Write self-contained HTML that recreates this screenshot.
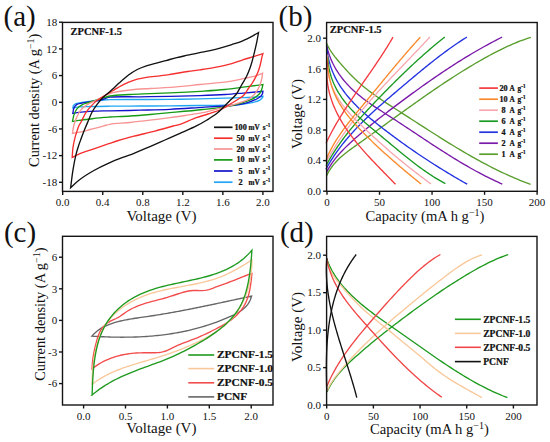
<!DOCTYPE html>
<html><head><meta charset="utf-8"><style>
html,body{margin:0;padding:0;background:#fff;width:550px;height:442px;overflow:hidden}
svg{display:block}
</style></head><body>
<svg width="550" height="442" viewBox="0 0 550 442"><rect width="550" height="442" fill="#ffffff"/><path d="M72.80 107.90 C73.03 107.07 73.02 106.09 73.50 105.40 C74.02 104.67 74.80 104.17 75.90 103.70 C77.73 102.92 81.08 102.63 83.90 102.20 C87.04 101.72 90.56 101.37 93.90 101.00 C97.26 100.63 101.07 100.22 104.00 100.00 C106.26 99.83 107.23 99.78 110.00 99.70 C116.18 99.53 130.00 99.55 140.00 99.50 C150.00 99.45 160.00 99.52 170.00 99.40 C180.00 99.28 190.46 99.03 200.00 98.80 C208.71 98.59 217.34 98.31 225.00 98.10 C231.52 97.92 237.58 97.80 243.10 97.60 C247.76 97.43 252.36 97.27 256.00 97.00 C258.69 96.80 260.67 96.53 263.00 96.30 C262.70 96.90 262.57 97.52 262.10 98.10 C261.49 98.87 260.59 99.65 259.40 100.30 C257.64 101.25 254.94 101.95 252.20 102.60 C248.69 103.43 244.29 104.07 240.00 104.50 C235.27 104.98 230.64 105.03 225.00 105.20 C217.73 105.41 208.71 105.39 200.00 105.50 C190.46 105.62 180.00 105.82 170.00 105.90 C160.00 105.98 150.00 105.95 140.00 106.00 C130.00 106.05 118.99 106.10 110.00 106.20 C102.66 106.28 95.69 106.35 90.00 106.50 C85.76 106.61 82.04 106.59 78.90 106.90 C76.56 107.13 74.83 107.57 72.80 107.90 Z" fill="none" stroke="#22a6f2" stroke-width="1.35" stroke-linejoin="miter" stroke-linecap="butt"/><path d="M72.80 113.40 C73.20 111.57 73.24 109.45 74.00 107.90 C74.68 106.51 75.54 105.25 76.90 104.40 C78.61 103.33 81.35 103.20 83.90 102.70 C86.92 102.11 90.57 101.81 93.90 101.20 C97.27 100.58 101.08 99.75 104.00 99.00 C106.27 98.41 107.19 97.63 110.00 97.20 C116.14 96.26 130.00 96.93 140.00 96.80 C150.00 96.67 160.00 96.60 170.00 96.40 C180.00 96.20 190.46 95.94 200.00 95.60 C208.71 95.29 217.34 94.96 225.00 94.50 C231.52 94.10 237.58 93.55 243.10 93.10 C247.76 92.72 252.37 92.34 256.00 92.00 C258.66 91.75 260.60 91.53 262.90 91.30 C262.80 92.07 262.89 92.84 262.60 93.60 C262.26 94.50 261.63 95.48 260.80 96.30 C259.78 97.31 258.39 98.12 256.70 99.00 C254.31 100.24 250.98 101.60 247.60 102.60 C243.59 103.78 238.17 104.74 234.10 105.30 C230.78 105.76 228.70 105.75 225.00 106.00 C219.21 106.39 210.84 106.81 202.70 107.30 C192.84 107.89 180.67 108.81 170.00 109.30 C159.79 109.77 150.00 109.93 140.00 110.20 C130.00 110.47 116.18 110.83 110.00 110.90 C107.24 110.93 106.68 110.82 104.00 110.90 C98.50 111.06 84.41 111.78 78.90 112.40 C76.17 112.71 74.83 113.07 72.80 113.40 Z" fill="none" stroke="#1414cc" stroke-width="1.35" stroke-linejoin="miter" stroke-linecap="butt"/><path d="M72.50 121.40 C73.00 119.23 73.27 116.98 74.00 114.90 C74.73 112.82 75.56 110.58 76.90 108.90 C78.21 107.26 79.99 105.95 81.90 104.90 C83.95 103.77 86.29 103.36 88.90 102.50 C92.17 101.42 96.39 100.11 100.00 99.00 C103.42 97.95 106.05 96.73 110.00 96.00 C115.48 94.99 123.33 94.88 130.00 94.50 C136.66 94.12 143.33 93.97 150.00 93.70 C156.67 93.43 162.66 93.24 170.00 92.90 C178.99 92.48 190.46 91.90 200.00 91.30 C208.72 90.75 217.35 90.26 225.00 89.50 C231.53 88.85 237.50 87.93 243.10 87.20 C247.96 86.57 253.05 85.91 256.70 85.40 C259.17 85.06 260.83 84.80 262.90 84.50 C262.63 85.70 262.49 86.85 262.10 88.10 C261.66 89.53 261.18 91.25 260.30 92.60 C259.39 93.99 258.16 95.17 256.70 96.30 C254.97 97.64 252.89 98.79 250.40 99.90 C247.14 101.35 242.45 102.71 238.60 103.80 C234.99 104.82 232.32 105.52 228.00 106.30 C221.40 107.49 211.68 108.49 202.70 109.50 C192.51 110.64 179.57 111.80 170.00 112.70 C162.52 113.40 156.67 113.95 150.00 114.50 C143.34 115.05 136.67 115.58 130.00 116.00 C123.34 116.42 114.72 116.72 110.00 117.00 C107.41 117.15 106.41 117.18 104.00 117.40 C100.30 117.73 94.39 118.47 90.00 119.00 C86.08 119.47 82.09 119.95 78.90 120.40 C76.47 120.74 74.63 121.07 72.50 121.40 Z" fill="none" stroke="#169a16" stroke-width="1.35" stroke-linejoin="miter" stroke-linecap="butt"/><path d="M72.50 133.30 C73.00 130.47 73.26 127.55 74.00 124.80 C74.73 122.09 75.73 119.41 76.90 116.90 C78.04 114.45 79.21 111.91 80.90 109.90 C82.56 107.92 84.55 106.43 86.90 104.90 C89.70 103.08 93.26 101.75 96.80 100.00 C100.88 97.98 105.01 95.13 110.00 93.50 C115.86 91.59 123.31 90.83 130.00 90.00 C136.65 89.17 143.33 88.93 150.00 88.50 C156.66 88.07 162.67 87.96 170.00 87.40 C179.00 86.72 190.00 85.50 200.00 84.50 C210.00 83.50 222.07 82.65 230.00 81.40 C235.29 80.56 238.77 79.52 243.10 78.60 C247.37 77.69 252.26 76.97 255.80 75.90 C258.46 75.10 260.33 74.10 262.60 73.20 C262.30 75.17 262.18 77.06 261.70 79.10 C261.16 81.40 260.40 84.03 259.40 86.30 C258.42 88.52 257.27 90.66 255.80 92.60 C254.29 94.60 252.48 96.59 250.40 98.10 C248.26 99.65 245.84 100.63 243.10 101.70 C239.83 102.98 235.61 103.96 232.00 105.00 C228.58 105.99 225.88 106.76 222.00 107.80 C216.62 109.24 209.02 111.40 202.70 112.70 C196.70 113.93 190.66 114.66 185.00 115.50 C179.80 116.28 175.36 116.88 170.00 117.60 C163.81 118.44 156.67 119.38 150.00 120.20 C143.34 121.02 136.67 121.82 130.00 122.50 C123.34 123.18 114.70 123.51 110.00 124.30 C107.39 124.74 106.41 125.18 104.00 125.80 C100.30 126.75 93.71 128.46 90.00 129.50 C87.54 130.19 86.27 130.75 83.90 131.30 C80.71 132.05 76.30 132.63 72.50 133.30 Z" fill="none" stroke="#f89494" stroke-width="1.35" stroke-linejoin="miter" stroke-linecap="butt"/><path d="M72.20 157.40 C72.47 154.07 72.52 150.76 73.00 147.40 C73.50 143.93 74.41 139.95 75.20 136.90 C75.83 134.49 76.53 132.50 77.20 130.50 C77.80 128.72 78.26 127.09 79.00 125.50 C79.73 123.93 80.65 122.76 81.60 121.00 C82.91 118.59 84.20 115.01 86.00 112.30 C87.83 109.54 90.47 106.71 92.50 104.60 C94.08 102.96 95.38 101.75 97.00 100.50 C98.67 99.21 100.58 98.16 102.40 97.00 C104.24 95.83 106.15 94.60 108.00 93.50 C109.78 92.44 111.64 91.49 113.30 90.50 C114.82 89.59 116.15 88.65 117.60 87.80 C119.05 86.95 120.40 86.24 122.00 85.40 C123.88 84.42 125.90 83.27 128.20 82.30 C130.91 81.15 134.24 79.94 137.30 79.10 C140.30 78.28 143.05 77.81 146.40 77.30 C150.47 76.67 155.91 76.29 160.00 75.80 C163.37 75.39 165.61 75.13 169.20 74.60 C174.31 73.84 182.15 72.35 187.70 71.50 C192.21 70.81 195.70 70.44 200.00 69.80 C204.76 69.09 209.87 68.37 215.00 67.40 C220.46 66.36 226.84 65.11 231.80 63.70 C235.86 62.55 239.05 61.09 242.70 59.90 C246.32 58.72 250.12 57.69 253.60 56.60 C256.83 55.59 259.80 54.60 262.90 53.60 C262.53 54.97 262.18 56.13 261.80 57.70 C261.29 59.78 260.82 62.65 260.20 65.00 C259.61 67.24 259.00 69.41 258.20 71.50 C257.42 73.54 256.51 75.44 255.50 77.40 C254.45 79.44 253.20 81.65 252.00 83.50 C250.93 85.15 249.91 86.30 248.70 88.00 C247.15 90.17 245.52 93.50 243.50 95.50 C241.67 97.31 239.50 98.28 237.30 99.70 C234.87 101.27 232.17 102.90 229.50 104.50 C226.71 106.17 224.14 108.01 220.90 109.50 C217.11 111.24 212.20 112.60 208.00 114.00 C204.04 115.32 200.57 116.20 196.40 117.70 C191.37 119.51 184.30 122.90 180.00 124.30 C177.31 125.18 176.08 125.26 173.30 126.00 C168.68 127.23 161.24 129.45 154.90 131.10 C148.17 132.85 140.46 134.53 134.00 136.20 C128.38 137.65 122.86 139.11 118.30 140.50 C114.72 141.59 112.32 142.49 108.80 143.70 C104.39 145.21 98.88 147.17 93.90 148.90 C88.91 150.64 82.87 152.44 78.90 154.10 C76.18 155.24 74.43 156.30 72.20 157.40 Z" fill="none" stroke="#f52e2e" stroke-width="1.35" stroke-linejoin="miter" stroke-linecap="butt"/><path d="M70.60 187.80 C71.40 181.80 72.07 175.50 73.00 169.80 C73.85 164.59 74.85 159.21 75.90 154.90 C76.72 151.53 77.62 148.72 78.50 146.00 C79.26 143.65 79.93 141.87 80.80 139.50 C81.85 136.63 83.15 133.11 84.40 130.00 C85.62 126.95 86.92 123.97 88.20 121.00 C89.46 118.07 90.53 115.06 92.00 112.30 C93.44 109.60 95.04 107.09 96.90 104.60 C98.85 101.98 101.22 99.25 103.50 97.00 C105.60 94.93 108.31 92.97 110.00 91.50 C111.10 90.54 111.62 90.09 112.70 89.10 C114.39 87.54 116.75 85.13 119.10 83.00 C121.84 80.53 125.08 77.50 128.20 75.20 C131.15 73.03 134.19 71.07 137.30 69.50 C140.27 68.00 143.34 66.92 146.40 65.90 C149.41 64.90 152.36 64.25 155.50 63.40 C158.85 62.49 162.39 61.55 165.90 60.60 C169.49 59.62 173.15 58.50 176.80 57.60 C180.42 56.70 184.07 56.00 187.70 55.20 C191.33 54.40 194.92 53.56 198.60 52.80 C202.35 52.02 206.25 51.42 210.00 50.60 C213.68 49.79 217.28 48.90 220.90 47.90 C224.55 46.90 228.18 45.78 231.80 44.60 C235.45 43.41 239.11 42.31 242.70 40.80 C246.38 39.25 250.70 36.94 253.60 35.40 C255.57 34.35 256.87 33.53 258.50 32.60 C257.97 35.53 257.51 38.39 256.90 41.40 C256.25 44.59 255.46 48.04 254.70 51.20 C253.99 54.19 253.28 57.11 252.50 59.90 C251.77 62.53 251.13 64.88 250.20 67.50 C249.17 70.40 247.93 73.59 246.50 76.50 C245.06 79.42 243.30 82.09 241.60 85.00 C239.80 88.08 238.16 91.71 236.00 94.50 C233.96 97.13 231.70 98.82 229.10 101.40 C225.76 104.73 221.51 109.58 217.60 112.80 C214.12 115.66 210.58 117.79 207.00 120.00 C203.51 122.15 200.36 123.91 196.40 125.90 C191.57 128.33 185.35 130.90 180.00 133.30 C174.89 135.59 170.00 137.78 165.00 140.00 C160.00 142.22 155.09 144.40 150.00 146.60 C144.76 148.87 138.77 151.53 134.00 153.40 C130.21 154.88 127.43 155.68 123.70 157.10 C119.18 158.82 113.72 160.89 108.80 163.10 C103.79 165.35 98.80 167.71 93.90 170.50 C88.83 173.39 83.06 176.99 78.90 180.20 C75.60 182.75 73.37 185.27 70.60 187.80 Z" fill="none" stroke="#111111" stroke-width="1.35" stroke-linejoin="miter" stroke-linecap="butt"/><rect x="62.5" y="22.4" width="210.5" height="169.0" fill="none" stroke="#141414" stroke-width="1.4"/><line x1="62.7" y1="191.4" x2="62.7" y2="194.9" stroke="#141414" stroke-width="1.4"/><text x="62.7" y="206" style="font-family:'Liberation Serif',serif;font-size:11px;" text-anchor="middle" fill="#111" >0.0</text><line x1="102.74000000000001" y1="191.4" x2="102.74000000000001" y2="194.9" stroke="#141414" stroke-width="1.4"/><text x="102.74000000000001" y="206" style="font-family:'Liberation Serif',serif;font-size:11px;" text-anchor="middle" fill="#111" >0.4</text><line x1="142.78" y1="191.4" x2="142.78" y2="194.9" stroke="#141414" stroke-width="1.4"/><text x="142.78" y="206" style="font-family:'Liberation Serif',serif;font-size:11px;" text-anchor="middle" fill="#111" >0.8</text><line x1="182.82" y1="191.4" x2="182.82" y2="194.9" stroke="#141414" stroke-width="1.4"/><text x="182.82" y="206" style="font-family:'Liberation Serif',serif;font-size:11px;" text-anchor="middle" fill="#111" >1.2</text><line x1="222.86" y1="191.4" x2="222.86" y2="194.9" stroke="#141414" stroke-width="1.4"/><text x="222.86" y="206" style="font-family:'Liberation Serif',serif;font-size:11px;" text-anchor="middle" fill="#111" >1.6</text><line x1="262.9" y1="191.4" x2="262.9" y2="194.9" stroke="#141414" stroke-width="1.4"/><text x="262.9" y="206" style="font-family:'Liberation Serif',serif;font-size:11px;" text-anchor="middle" fill="#111" >2.0</text><line x1="59.0" y1="22.203999999999994" x2="62.5" y2="22.203999999999994" stroke="#141414" stroke-width="1.4"/><text x="57.2" y="25.943999999999996" style="font-family:'Liberation Serif',serif;font-size:11px;" text-anchor="end" fill="#111" >18</text><line x1="59.0" y1="48.885999999999996" x2="62.5" y2="48.885999999999996" stroke="#141414" stroke-width="1.4"/><text x="57.2" y="52.626" style="font-family:'Liberation Serif',serif;font-size:11px;" text-anchor="end" fill="#111" >12</text><line x1="59.0" y1="75.568" x2="62.5" y2="75.568" stroke="#141414" stroke-width="1.4"/><text x="57.2" y="79.30799999999999" style="font-family:'Liberation Serif',serif;font-size:11px;" text-anchor="end" fill="#111" >6</text><line x1="59.0" y1="102.25" x2="62.5" y2="102.25" stroke="#141414" stroke-width="1.4"/><text x="57.2" y="105.99" style="font-family:'Liberation Serif',serif;font-size:11px;" text-anchor="end" fill="#111" >0</text><line x1="59.0" y1="128.93200000000002" x2="62.5" y2="128.93200000000002" stroke="#141414" stroke-width="1.4"/><text x="57.2" y="132.67200000000003" style="font-family:'Liberation Serif',serif;font-size:11px;" text-anchor="end" fill="#111" >-6</text><line x1="59.0" y1="155.614" x2="62.5" y2="155.614" stroke="#141414" stroke-width="1.4"/><text x="57.2" y="159.354" style="font-family:'Liberation Serif',serif;font-size:11px;" text-anchor="end" fill="#111" >-12</text><line x1="59.0" y1="182.296" x2="62.5" y2="182.296" stroke="#141414" stroke-width="1.4"/><text x="57.2" y="186.036" style="font-family:'Liberation Serif',serif;font-size:11px;" text-anchor="end" fill="#111" >-18</text><text x="70.6" y="35" style="font-family:'Liberation Serif',serif;font-size:10.1px;font-weight:bold;stroke:#111;stroke-width:0.22px;" text-anchor="start" fill="#111" textLength="51.3" lengthAdjust="spacingAndGlyphs">ZPCNF-1.5</text><text x="161.5" y="221" style="font-family:'Liberation Serif',serif;font-size:15px;" text-anchor="middle" fill="#111" >Voltage (V)</text><text transform="translate(39.0,100.3) rotate(-90)" style="font-family:'Liberation Serif',serif;font-size:14.4px" text-anchor="middle" fill="#111">Current density (A g<tspan dy="-5" style="font-size:10px">−1</tspan><tspan dy="5">)</tspan></text><line x1="214" y1="127.3" x2="232.5" y2="127.3" stroke="#111111" stroke-width="1.7"/><text x="240.6" y="129.8" style="font-family:'Liberation Serif',serif;font-size:7.2px;font-weight:bold;stroke:#111;stroke-width:0.22px;" text-anchor="middle" fill="#111" textLength="12.3" lengthAdjust="spacingAndGlyphs">100</text><text x="248.6" y="129.8" style="font-family:'Liberation Serif',serif;font-size:7.2px;font-weight:bold;stroke:#111;stroke-width:0.22px;" text-anchor="start" fill="#111" >mV</text><text x="262.7" y="129.8" style="font-family:'Liberation Serif',serif;font-size:7.2px;font-weight:bold;stroke:#111;stroke-width:0.22px;" text-anchor="start" fill="#111" >s</text><text x="266.0" y="126.7" style="font-family:'Liberation Serif',serif;font-size:5.2px;font-weight:bold;stroke:#111;stroke-width:0.22px;" text-anchor="start" fill="#111" >-1</text><line x1="214" y1="138.2" x2="232.5" y2="138.2" stroke="#f52e2e" stroke-width="1.7"/><text x="240.6" y="140.7" style="font-family:'Liberation Serif',serif;font-size:7.2px;font-weight:bold;stroke:#111;stroke-width:0.22px;" text-anchor="middle" fill="#111" textLength="8.2" lengthAdjust="spacingAndGlyphs">50</text><text x="248.6" y="140.7" style="font-family:'Liberation Serif',serif;font-size:7.2px;font-weight:bold;stroke:#111;stroke-width:0.22px;" text-anchor="start" fill="#111" >mV</text><text x="262.7" y="140.7" style="font-family:'Liberation Serif',serif;font-size:7.2px;font-weight:bold;stroke:#111;stroke-width:0.22px;" text-anchor="start" fill="#111" >s</text><text x="266.0" y="137.6" style="font-family:'Liberation Serif',serif;font-size:5.2px;font-weight:bold;stroke:#111;stroke-width:0.22px;" text-anchor="start" fill="#111" >-1</text><line x1="214" y1="149.0" x2="232.5" y2="149.0" stroke="#f89494" stroke-width="1.7"/><text x="240.6" y="151.5" style="font-family:'Liberation Serif',serif;font-size:7.2px;font-weight:bold;stroke:#111;stroke-width:0.22px;" text-anchor="middle" fill="#111" textLength="8.2" lengthAdjust="spacingAndGlyphs">20</text><text x="248.6" y="151.5" style="font-family:'Liberation Serif',serif;font-size:7.2px;font-weight:bold;stroke:#111;stroke-width:0.22px;" text-anchor="start" fill="#111" >mV</text><text x="262.7" y="151.5" style="font-family:'Liberation Serif',serif;font-size:7.2px;font-weight:bold;stroke:#111;stroke-width:0.22px;" text-anchor="start" fill="#111" >s</text><text x="266.0" y="148.4" style="font-family:'Liberation Serif',serif;font-size:5.2px;font-weight:bold;stroke:#111;stroke-width:0.22px;" text-anchor="start" fill="#111" >-1</text><line x1="214" y1="159.9" x2="232.5" y2="159.9" stroke="#169a16" stroke-width="1.7"/><text x="240.6" y="162.4" style="font-family:'Liberation Serif',serif;font-size:7.2px;font-weight:bold;stroke:#111;stroke-width:0.22px;" text-anchor="middle" fill="#111" textLength="8.2" lengthAdjust="spacingAndGlyphs">10</text><text x="248.6" y="162.4" style="font-family:'Liberation Serif',serif;font-size:7.2px;font-weight:bold;stroke:#111;stroke-width:0.22px;" text-anchor="start" fill="#111" >mV</text><text x="262.7" y="162.4" style="font-family:'Liberation Serif',serif;font-size:7.2px;font-weight:bold;stroke:#111;stroke-width:0.22px;" text-anchor="start" fill="#111" >s</text><text x="266.0" y="159.3" style="font-family:'Liberation Serif',serif;font-size:5.2px;font-weight:bold;stroke:#111;stroke-width:0.22px;" text-anchor="start" fill="#111" >-1</text><line x1="214" y1="171.0" x2="232.5" y2="171.0" stroke="#1414cc" stroke-width="1.7"/><text x="240.6" y="173.5" style="font-family:'Liberation Serif',serif;font-size:7.2px;font-weight:bold;stroke:#111;stroke-width:0.22px;" text-anchor="middle" fill="#111" textLength="4.1" lengthAdjust="spacingAndGlyphs">5</text><text x="248.6" y="173.5" style="font-family:'Liberation Serif',serif;font-size:7.2px;font-weight:bold;stroke:#111;stroke-width:0.22px;" text-anchor="start" fill="#111" >mV</text><text x="262.7" y="173.5" style="font-family:'Liberation Serif',serif;font-size:7.2px;font-weight:bold;stroke:#111;stroke-width:0.22px;" text-anchor="start" fill="#111" >s</text><text x="266.0" y="170.4" style="font-family:'Liberation Serif',serif;font-size:5.2px;font-weight:bold;stroke:#111;stroke-width:0.22px;" text-anchor="start" fill="#111" >-1</text><line x1="214" y1="182.2" x2="232.5" y2="182.2" stroke="#22a6f2" stroke-width="1.7"/><text x="240.6" y="184.7" style="font-family:'Liberation Serif',serif;font-size:7.2px;font-weight:bold;stroke:#111;stroke-width:0.22px;" text-anchor="middle" fill="#111" textLength="4.1" lengthAdjust="spacingAndGlyphs">2</text><text x="248.6" y="184.7" style="font-family:'Liberation Serif',serif;font-size:7.2px;font-weight:bold;stroke:#111;stroke-width:0.22px;" text-anchor="start" fill="#111" >mV</text><text x="262.7" y="184.7" style="font-family:'Liberation Serif',serif;font-size:7.2px;font-weight:bold;stroke:#111;stroke-width:0.22px;" text-anchor="start" fill="#111" >s</text><text x="266.0" y="181.6" style="font-family:'Liberation Serif',serif;font-size:5.2px;font-weight:bold;stroke:#111;stroke-width:0.22px;" text-anchor="start" fill="#111" >-1</text><path d="M326.49 176.06 L327.77 173.43 L329.17 170.93 L330.69 168.54 L332.33 166.27 L334.06 164.10 L335.88 162.02 L337.80 160.03 L339.78 158.11 L341.84 156.27 L343.95 154.48 L346.11 152.74 L348.32 151.04 L350.56 149.37 L352.82 147.73 L355.10 146.10 L357.39 144.48 L359.68 142.86 L361.96 141.24 L364.25 139.61 L366.53 137.98 L368.81 136.35 L371.09 134.71 L373.36 133.07 L375.64 131.43 L377.91 129.79 L380.19 128.15 L382.46 126.50 L384.73 124.86 L387.01 123.21 L389.28 121.57 L391.55 119.92 L393.82 118.28 L396.10 116.64 L398.37 115.00 L400.64 113.36 L402.92 111.72 L405.20 110.09 L407.48 108.45 L409.76 106.83 L412.04 105.20 L414.32 103.58 L416.61 101.96 L418.90 100.34 L421.19 98.73 L423.48 97.12 L425.78 95.52 L428.08 93.93 L430.39 92.34 L432.69 90.75 L435.01 89.17 L437.32 87.60 L439.65 86.03 L441.97 84.48 L444.30 82.92 L446.64 81.38 L448.98 79.84 L451.33 78.31 L453.68 76.79 L456.04 75.28 L458.41 73.78 L460.78 72.29 L463.16 70.80 L465.54 69.33 L467.94 67.87 L470.34 66.41 L472.75 64.97 L475.16 63.54 L477.59 62.12 L480.02 60.71 L482.46 59.31 L484.91 57.93 L487.37 56.56 L489.84 55.22 L492.31 53.89 L494.80 52.58 L497.30 51.30 L499.81 50.03 L502.33 48.80 L504.86 47.59 L507.40 46.41 L509.96 45.26 L512.52 44.14 L515.10 43.05 L517.69 42.00 L520.29 40.99 L522.91 40.01 L525.54 39.07 L528.18 38.17 L530.84 37.32" fill="none" stroke="#5a9e2e" stroke-width="1.35"/><path d="M326.30 42.71 L327.45 45.21 L328.73 47.64 L330.14 50.01 L331.67 52.32 L333.28 54.59 L334.98 56.82 L336.74 59.02 L338.55 61.20 L340.39 63.37 L342.25 65.53 L344.14 67.67 L346.06 69.80 L348.00 71.90 L349.97 73.98 L351.97 76.03 L354.01 78.04 L356.07 80.00 L358.17 81.93 L360.29 83.81 L362.45 85.65 L364.64 87.45 L366.85 89.21 L369.08 90.94 L371.34 92.64 L373.62 94.31 L375.92 95.95 L378.24 97.57 L380.57 99.17 L382.91 100.75 L385.27 102.32 L387.64 103.87 L390.01 105.42 L392.39 106.95 L394.78 108.48 L397.17 110.01 L399.56 111.53 L401.94 113.06 L404.33 114.59 L406.72 116.13 L409.10 117.66 L411.49 119.20 L413.87 120.74 L416.26 122.28 L418.64 123.82 L421.03 125.36 L423.42 126.89 L425.80 128.43 L428.19 129.96 L430.59 131.49 L432.98 133.01 L435.37 134.54 L437.77 136.05 L440.17 137.57 L442.58 139.07 L444.98 140.58 L447.39 142.07 L449.81 143.56 L452.23 145.04 L454.65 146.51 L457.08 147.98 L459.51 149.43 L461.95 150.88 L464.39 152.31 L466.84 153.74 L469.29 155.15 L471.75 156.56 L474.22 157.95 L476.69 159.32 L479.17 160.69 L481.66 162.04 L484.15 163.37 L486.65 164.70 L489.16 166.00 L491.68 167.29 L494.21 168.57 L496.74 169.83 L499.29 171.07 L501.84 172.29 L504.41 173.49 L506.98 174.68 L509.56 175.84 L512.16 176.99 L514.76 178.12 L517.38 179.22 L520.00 180.30 L522.64 181.37 L525.29 182.40 L527.95 183.42 L530.62 184.41" fill="none" stroke="#5a9e2e" stroke-width="1.35"/><path d="M326.45 172.35 L327.64 170.12 L328.90 167.93 L330.23 165.80 L331.61 163.71 L333.05 161.66 L334.55 159.66 L336.10 157.70 L337.69 155.77 L339.33 153.88 L341.01 152.03 L342.73 150.20 L344.48 148.40 L346.26 146.63 L348.07 144.89 L349.90 143.16 L351.75 141.46 L353.62 139.77 L355.51 138.10 L357.40 136.44 L359.30 134.79 L361.20 133.15 L363.12 131.53 L365.04 129.91 L366.97 128.30 L368.90 126.70 L370.84 125.11 L372.78 123.53 L374.73 121.96 L376.69 120.39 L378.65 118.84 L380.62 117.29 L382.59 115.74 L384.57 114.20 L386.55 112.67 L388.54 111.15 L390.53 109.63 L392.52 108.11 L394.52 106.60 L396.52 105.09 L398.53 103.59 L400.54 102.09 L402.56 100.60 L404.57 99.10 L406.59 97.61 L408.62 96.13 L410.64 94.64 L412.67 93.16 L414.71 91.68 L416.75 90.21 L418.79 88.74 L420.83 87.28 L422.88 85.82 L424.94 84.36 L426.99 82.91 L429.05 81.47 L431.12 80.03 L433.19 78.60 L435.26 77.17 L437.34 75.75 L439.42 74.33 L441.51 72.92 L443.60 71.52 L445.69 70.13 L447.79 68.74 L449.90 67.36 L452.01 65.99 L454.12 64.63 L456.24 63.27 L458.37 61.93 L460.50 60.59 L462.63 59.26 L464.77 57.94 L466.92 56.63 L469.07 55.33 L471.23 54.04 L473.39 52.76 L475.56 51.49 L477.73 50.23 L479.91 48.98 L482.10 47.74 L484.29 46.52 L486.48 45.30 L488.69 44.10 L490.90 42.91 L493.11 41.73 L495.33 40.56 L497.56 39.41 L499.80 38.27 L502.04 37.14" fill="none" stroke="#7a1aa8" stroke-width="1.35"/><path d="M326.75 45.66 L327.35 48.32 L328.05 50.93 L328.83 53.49 L329.69 56.00 L330.64 58.46 L331.66 60.87 L332.76 63.24 L333.93 65.56 L335.17 67.82 L336.48 70.05 L337.85 72.22 L339.29 74.35 L340.78 76.43 L342.33 78.46 L343.94 80.45 L345.59 82.39 L347.30 84.29 L349.05 86.14 L350.84 87.94 L352.68 89.70 L354.55 91.42 L356.46 93.10 L358.41 94.74 L360.38 96.34 L362.38 97.92 L364.41 99.46 L366.47 100.98 L368.54 102.47 L370.64 103.94 L372.75 105.39 L374.88 106.83 L377.02 108.25 L379.18 109.65 L381.34 111.05 L383.50 112.45 L385.67 113.83 L387.84 115.22 L390.01 116.61 L392.17 118.00 L394.33 119.40 L396.49 120.80 L398.64 122.21 L400.79 123.62 L402.93 125.03 L405.07 126.44 L407.21 127.86 L409.35 129.28 L411.49 130.69 L413.62 132.11 L415.76 133.53 L417.89 134.95 L420.02 136.37 L422.16 137.79 L424.29 139.20 L426.43 140.62 L428.56 142.03 L430.70 143.44 L432.84 144.84 L434.99 146.24 L437.13 147.64 L439.28 149.03 L441.44 150.41 L443.59 151.79 L445.75 153.16 L447.92 154.53 L450.09 155.89 L452.27 157.24 L454.45 158.59 L456.64 159.92 L458.83 161.25 L461.04 162.56 L463.25 163.87 L465.46 165.16 L467.69 166.45 L469.92 167.72 L472.17 168.98 L474.42 170.23 L476.68 171.47 L478.95 172.69 L481.23 173.90 L483.53 175.10 L485.83 176.28 L488.15 177.44 L490.47 178.59 L492.81 179.72 L495.16 180.84 L497.53 181.94 L499.91 183.03 L502.30 184.09" fill="none" stroke="#7a1aa8" stroke-width="1.35"/><path d="M325.88 169.33 L326.94 167.40 L328.02 165.49 L329.13 163.60 L330.27 161.73 L331.42 159.87 L332.60 158.03 L333.80 156.21 L335.02 154.41 L336.27 152.62 L337.53 150.85 L338.82 149.10 L340.12 147.36 L341.44 145.63 L342.78 143.92 L344.14 142.23 L345.52 140.54 L346.91 138.88 L348.32 137.22 L349.75 135.58 L351.19 133.95 L352.65 132.33 L354.12 130.73 L355.61 129.13 L357.11 127.55 L358.62 125.98 L360.15 124.42 L361.68 122.87 L363.23 121.32 L364.79 119.79 L366.36 118.27 L367.94 116.75 L369.53 115.25 L371.13 113.75 L372.74 112.25 L374.36 110.77 L375.98 109.29 L377.61 107.82 L379.25 106.35 L380.90 104.89 L382.54 103.44 L384.20 101.99 L385.86 100.54 L387.52 99.10 L389.19 97.67 L390.86 96.23 L392.53 94.80 L394.21 93.37 L395.88 91.95 L397.56 90.53 L399.24 89.10 L400.92 87.68 L402.60 86.26 L404.28 84.84 L405.95 83.43 L407.63 82.01 L409.31 80.60 L410.99 79.18 L412.67 77.77 L414.35 76.37 L416.03 74.96 L417.72 73.56 L419.40 72.16 L421.09 70.77 L422.78 69.38 L424.48 68.00 L426.18 66.62 L427.88 65.25 L429.58 63.88 L431.30 62.52 L433.01 61.16 L434.73 59.82 L436.45 58.47 L438.18 57.14 L439.92 55.82 L441.66 54.50 L443.41 53.19 L445.17 51.89 L446.93 50.60 L448.70 49.32 L450.48 48.04 L452.26 46.78 L454.06 45.53 L455.86 44.29 L457.67 43.06 L459.49 41.84 L461.32 40.64 L463.16 39.44 L465.01 38.26 L466.87 37.09" fill="none" stroke="#2333e0" stroke-width="1.35"/><path d="M326.86 47.18 L327.08 49.65 L327.37 52.08 L327.73 54.48 L328.15 56.83 L328.64 59.14 L329.19 61.42 L329.80 63.66 L330.47 65.86 L331.20 68.02 L331.99 70.16 L332.83 72.25 L333.72 74.32 L334.67 76.35 L335.67 78.35 L336.72 80.32 L337.81 82.25 L338.95 84.16 L340.14 86.04 L341.37 87.90 L342.64 89.72 L343.95 91.52 L345.30 93.30 L346.69 95.05 L348.11 96.77 L349.57 98.48 L351.06 100.16 L352.58 101.82 L354.13 103.46 L355.71 105.08 L357.31 106.68 L358.94 108.26 L360.60 109.82 L362.27 111.37 L363.97 112.91 L365.69 114.42 L367.42 115.93 L369.17 117.42 L370.93 118.90 L372.71 120.36 L374.50 121.82 L376.30 123.26 L378.11 124.70 L379.92 126.12 L381.74 127.54 L383.57 128.96 L385.40 130.36 L387.23 131.76 L389.06 133.15 L390.90 134.54 L392.75 135.91 L394.59 137.28 L396.45 138.65 L398.30 140.01 L400.16 141.36 L402.02 142.70 L403.89 144.03 L405.76 145.36 L407.63 146.69 L409.51 148.00 L411.39 149.31 L413.27 150.61 L415.16 151.90 L417.05 153.19 L418.94 154.47 L420.84 155.75 L422.74 157.01 L424.64 158.27 L426.55 159.52 L428.46 160.77 L430.37 162.01 L432.28 163.24 L434.20 164.46 L436.12 165.68 L438.05 166.89 L439.98 168.09 L441.91 169.29 L443.84 170.48 L445.78 171.66 L447.72 172.84 L449.66 174.01 L451.60 175.17 L453.55 176.32 L455.50 177.47 L457.45 178.61 L459.41 179.74 L461.36 180.87 L463.32 181.99 L465.29 183.10 L467.25 184.20" fill="none" stroke="#2333e0" stroke-width="1.35"/><path d="M326.03 165.80 L326.96 164.05 L327.91 162.32 L328.87 160.61 L329.85 158.90 L330.85 157.20 L331.87 155.52 L332.91 153.84 L333.96 152.18 L335.02 150.53 L336.10 148.89 L337.20 147.25 L338.31 145.63 L339.44 144.02 L340.58 142.41 L341.73 140.82 L342.90 139.23 L344.08 137.66 L345.27 136.09 L346.48 134.53 L347.69 132.97 L348.92 131.43 L350.16 129.89 L351.41 128.36 L352.67 126.84 L353.94 125.32 L355.22 123.81 L356.50 122.31 L357.80 120.81 L359.11 119.32 L360.42 117.84 L361.74 116.36 L363.07 114.89 L364.40 113.42 L365.74 111.95 L367.09 110.49 L368.44 109.04 L369.80 107.59 L371.16 106.14 L372.53 104.70 L373.90 103.26 L375.27 101.82 L376.65 100.39 L378.03 98.96 L379.41 97.53 L380.80 96.10 L382.19 94.68 L383.57 93.26 L384.97 91.84 L386.36 90.42 L387.75 89.01 L389.15 87.60 L390.55 86.19 L391.95 84.78 L393.35 83.38 L394.75 81.98 L396.16 80.59 L397.57 79.19 L398.98 77.80 L400.40 76.42 L401.82 75.03 L403.24 73.65 L404.67 72.28 L406.09 70.91 L407.53 69.54 L408.96 68.18 L410.40 66.82 L411.84 65.47 L413.29 64.12 L414.74 62.78 L416.19 61.44 L417.65 60.10 L419.11 58.78 L420.58 57.45 L422.05 56.13 L423.53 54.82 L425.01 53.52 L426.49 52.22 L427.98 50.92 L429.48 49.63 L430.98 48.35 L432.49 47.07 L434.00 45.80 L435.51 44.54 L437.04 43.28 L438.56 42.03 L440.10 40.79 L441.64 39.55 L443.18 38.32 L444.73 37.10" fill="none" stroke="#1a9a22" stroke-width="1.35"/><path d="M327.71 55.48 L327.77 57.69 L327.90 59.87 L328.09 62.03 L328.34 64.15 L328.65 66.24 L329.01 68.30 L329.44 70.33 L329.92 72.33 L330.45 74.31 L331.03 76.25 L331.67 78.17 L332.36 80.06 L333.09 81.92 L333.88 83.76 L334.71 85.57 L335.58 87.35 L336.50 89.11 L337.46 90.84 L338.45 92.55 L339.49 94.24 L340.57 95.90 L341.68 97.54 L342.83 99.15 L344.01 100.74 L345.23 102.31 L346.47 103.86 L347.75 105.39 L349.05 106.90 L350.38 108.39 L351.74 109.85 L353.12 111.31 L354.52 112.74 L355.94 114.16 L357.39 115.57 L358.85 116.96 L360.33 118.34 L361.82 119.70 L363.33 121.06 L364.86 122.41 L366.39 123.75 L367.93 125.08 L369.49 126.40 L371.05 127.72 L372.61 129.03 L374.18 130.34 L375.76 131.64 L377.33 132.95 L378.91 134.25 L380.48 135.55 L382.05 136.86 L383.62 138.16 L385.19 139.47 L386.75 140.77 L388.31 142.08 L389.87 143.39 L391.43 144.69 L392.98 146.00 L394.54 147.30 L396.10 148.60 L397.66 149.89 L399.22 151.18 L400.78 152.47 L402.34 153.75 L403.90 155.03 L405.47 156.30 L407.05 157.57 L408.62 158.83 L410.21 160.08 L411.79 161.32 L413.38 162.55 L414.98 163.78 L416.59 164.99 L418.20 166.20 L419.82 167.39 L421.45 168.57 L423.09 169.74 L424.73 170.90 L426.39 172.05 L428.05 173.18 L429.73 174.30 L431.42 175.40 L433.12 176.49 L434.83 177.56 L436.55 178.62 L438.29 179.66 L440.04 180.68 L441.80 181.68 L443.58 182.67 L445.37 183.64" fill="none" stroke="#1a9a22" stroke-width="1.35"/><path d="M326.04 162.25 L326.91 160.64 L327.78 159.03 L328.67 157.43 L329.58 155.84 L330.49 154.25 L331.41 152.67 L332.35 151.10 L333.30 149.54 L334.26 147.98 L335.23 146.43 L336.21 144.89 L337.20 143.35 L338.20 141.83 L339.21 140.30 L340.23 138.79 L341.26 137.28 L342.30 135.77 L343.35 134.28 L344.41 132.78 L345.48 131.30 L346.56 129.82 L347.64 128.34 L348.73 126.88 L349.84 125.41 L350.95 123.96 L352.06 122.50 L353.19 121.06 L354.32 119.61 L355.46 118.18 L356.61 116.74 L357.76 115.31 L358.92 113.89 L360.09 112.47 L361.26 111.06 L362.44 109.65 L363.63 108.24 L364.82 106.84 L366.01 105.44 L367.21 104.05 L368.42 102.66 L369.63 101.27 L370.85 99.89 L372.07 98.51 L373.30 97.13 L374.53 95.76 L375.76 94.39 L377.00 93.03 L378.24 91.66 L379.48 90.30 L380.73 88.94 L381.98 87.59 L383.24 86.23 L384.50 84.88 L385.75 83.53 L387.02 82.19 L388.28 80.84 L389.55 79.50 L390.81 78.16 L392.08 76.82 L393.35 75.49 L394.62 74.15 L395.90 72.82 L397.17 71.48 L398.44 70.15 L399.72 68.82 L400.99 67.49 L402.27 66.17 L403.54 64.84 L404.82 63.51 L406.09 62.19 L407.36 60.86 L408.63 59.53 L409.91 58.21 L411.17 56.88 L412.44 55.56 L413.71 54.24 L414.97 52.91 L416.24 51.59 L417.50 50.26 L418.76 48.93 L420.01 47.61 L421.26 46.28 L422.51 44.95 L423.76 43.62 L425.00 42.29 L426.24 40.96 L427.48 39.63 L428.71 38.30 L429.94 36.96" fill="none" stroke="#f8a8b0" stroke-width="1.35"/><path d="M327.75 54.63 L327.55 56.75 L327.41 58.84 L327.34 60.92 L327.33 62.97 L327.39 64.99 L327.50 67.00 L327.68 68.98 L327.92 70.94 L328.21 72.88 L328.56 74.80 L328.97 76.69 L329.43 78.56 L329.94 80.41 L330.51 82.24 L331.12 84.05 L331.78 85.84 L332.49 87.60 L333.24 89.34 L334.04 91.06 L334.89 92.76 L335.77 94.44 L336.70 96.10 L337.66 97.73 L338.67 99.34 L339.71 100.94 L340.78 102.51 L341.89 104.06 L343.03 105.59 L344.21 107.10 L345.41 108.60 L346.64 110.08 L347.89 111.54 L349.17 112.98 L350.46 114.42 L351.78 115.84 L353.12 117.24 L354.47 118.64 L355.84 120.03 L357.22 121.40 L358.61 122.77 L360.01 124.13 L361.41 125.49 L362.82 126.83 L364.24 128.18 L365.66 129.52 L367.08 130.85 L368.50 132.19 L369.93 133.51 L371.36 134.84 L372.79 136.16 L374.23 137.47 L375.66 138.78 L377.10 140.09 L378.55 141.39 L379.99 142.69 L381.44 143.99 L382.90 145.27 L384.35 146.56 L385.81 147.84 L387.27 149.12 L388.73 150.39 L390.20 151.66 L391.67 152.92 L393.15 154.18 L394.62 155.43 L396.10 156.68 L397.59 157.92 L399.07 159.16 L400.56 160.39 L402.05 161.62 L403.55 162.85 L405.05 164.07 L406.55 165.28 L408.06 166.49 L409.57 167.70 L411.08 168.90 L412.60 170.10 L414.12 171.29 L415.64 172.47 L417.17 173.65 L418.70 174.83 L420.24 175.99 L421.77 177.16 L423.31 178.32 L424.86 179.47 L426.41 180.62 L427.96 181.76 L429.52 182.90 L431.08 184.03" fill="none" stroke="#f8a8b0" stroke-width="1.35"/><path d="M326.10 159.61 L326.78 158.00 L327.48 156.41 L328.20 154.83 L328.95 153.27 L329.71 151.71 L330.50 150.17 L331.31 148.65 L332.14 147.13 L332.98 145.63 L333.85 144.13 L334.73 142.65 L335.63 141.17 L336.54 139.71 L337.47 138.25 L338.42 136.81 L339.38 135.37 L340.35 133.94 L341.34 132.52 L342.34 131.11 L343.35 129.70 L344.37 128.30 L345.40 126.91 L346.45 125.52 L347.50 124.14 L348.56 122.76 L349.63 121.39 L350.71 120.02 L351.79 118.65 L352.89 117.29 L353.98 115.93 L355.08 114.58 L356.19 113.23 L357.30 111.88 L358.41 110.53 L359.53 109.18 L360.64 107.84 L361.76 106.49 L362.88 105.15 L364.00 103.80 L365.12 102.46 L366.24 101.11 L367.35 99.77 L368.47 98.42 L369.58 97.07 L370.69 95.72 L371.81 94.37 L372.92 93.02 L374.03 91.67 L375.14 90.32 L376.25 88.97 L377.36 87.62 L378.47 86.27 L379.58 84.92 L380.68 83.57 L381.79 82.22 L382.90 80.87 L384.01 79.52 L385.12 78.17 L386.23 76.82 L387.34 75.47 L388.46 74.13 L389.57 72.78 L390.68 71.44 L391.80 70.10 L392.91 68.75 L394.03 67.41 L395.15 66.08 L396.27 64.74 L397.39 63.40 L398.52 62.07 L399.64 60.74 L400.77 59.41 L401.90 58.08 L403.03 56.76 L404.16 55.43 L405.30 54.11 L406.44 52.80 L407.58 51.48 L408.72 50.17 L409.87 48.86 L411.02 47.55 L412.17 46.24 L413.33 44.94 L414.49 43.64 L415.65 42.35 L416.82 41.06 L417.99 39.77 L419.16 38.49 L420.34 37.20" fill="none" stroke="#f98a2c" stroke-width="1.35"/><path d="M327.56 57.75 L327.53 59.69 L327.55 61.61 L327.61 63.53 L327.71 65.43 L327.86 67.31 L328.04 69.19 L328.27 71.05 L328.53 72.90 L328.83 74.73 L329.18 76.55 L329.56 78.36 L329.97 80.15 L330.43 81.92 L330.92 83.68 L331.45 85.43 L332.02 87.16 L332.62 88.88 L333.25 90.58 L333.92 92.26 L334.62 93.93 L335.36 95.58 L336.13 97.22 L336.93 98.84 L337.76 100.44 L338.63 102.02 L339.52 103.59 L340.45 105.14 L341.41 106.67 L342.39 108.18 L343.41 109.68 L344.45 111.16 L345.52 112.62 L346.61 114.07 L347.72 115.50 L348.86 116.92 L350.02 118.32 L351.19 119.72 L352.39 121.10 L353.60 122.47 L354.82 123.83 L356.06 125.18 L357.31 126.52 L358.57 127.85 L359.84 129.18 L361.11 130.49 L362.40 131.81 L363.69 133.12 L364.98 134.42 L366.28 135.72 L367.59 137.01 L368.89 138.30 L370.21 139.58 L371.53 140.86 L372.85 142.13 L374.18 143.40 L375.51 144.66 L376.84 145.92 L378.18 147.17 L379.53 148.42 L380.88 149.67 L382.23 150.91 L383.58 152.14 L384.94 153.38 L386.30 154.60 L387.67 155.83 L389.04 157.05 L390.41 158.26 L391.78 159.47 L393.16 160.68 L394.54 161.88 L395.92 163.08 L397.30 164.28 L398.69 165.47 L400.08 166.65 L401.47 167.84 L402.87 169.02 L404.26 170.19 L405.66 171.37 L407.06 172.54 L408.46 173.70 L409.86 174.87 L411.27 176.02 L412.67 177.18 L414.08 178.33 L415.49 179.48 L416.90 180.63 L418.31 181.77 L419.72 182.91 L421.13 184.05" fill="none" stroke="#f98a2c" stroke-width="1.35"/><path d="M326.02 143.30 L326.61 142.03 L327.22 140.77 L327.83 139.51 L328.45 138.25 L329.08 136.99 L329.71 135.74 L330.35 134.50 L331.00 133.25 L331.66 132.02 L332.32 130.78 L332.99 129.55 L333.67 128.32 L334.36 127.09 L335.05 125.87 L335.74 124.65 L336.44 123.43 L337.15 122.22 L337.87 121.01 L338.59 119.80 L339.31 118.59 L340.04 117.39 L340.77 116.19 L341.51 114.99 L342.26 113.79 L343.01 112.60 L343.76 111.41 L344.52 110.22 L345.28 109.03 L346.05 107.84 L346.81 106.66 L347.59 105.48 L348.36 104.30 L349.14 103.12 L349.92 101.94 L350.71 100.76 L351.50 99.59 L352.29 98.42 L353.08 97.24 L353.88 96.07 L354.67 94.90 L355.47 93.73 L356.28 92.57 L357.08 91.40 L357.88 90.23 L358.69 89.06 L359.50 87.90 L360.30 86.73 L361.11 85.57 L361.92 84.41 L362.73 83.24 L363.54 82.08 L364.35 80.91 L365.16 79.75 L365.97 78.59 L366.78 77.42 L367.59 76.26 L368.40 75.09 L369.21 73.93 L370.01 72.76 L370.82 71.60 L371.62 70.43 L372.43 69.26 L373.23 68.09 L374.03 66.92 L374.83 65.75 L375.62 64.58 L376.42 63.41 L377.21 62.24 L378.00 61.06 L378.78 59.89 L379.57 58.71 L380.35 57.53 L381.12 56.35 L381.90 55.17 L382.67 53.98 L383.43 52.80 L384.19 51.61 L384.95 50.42 L385.71 49.23 L386.46 48.03 L387.20 46.83 L387.94 45.64 L388.68 44.43 L389.41 43.23 L390.13 42.02 L390.85 40.82 L391.57 39.60 L392.28 38.39 L392.98 37.17" fill="none" stroke="#f43a40" stroke-width="1.35"/><path d="M327.29 61.66 L327.11 63.42 L326.96 65.17 L326.85 66.91 L326.78 68.63 L326.74 70.34 L326.73 72.05 L326.76 73.74 L326.82 75.42 L326.91 77.09 L327.03 78.75 L327.19 80.40 L327.37 82.03 L327.59 83.66 L327.83 85.28 L328.11 86.88 L328.41 88.48 L328.75 90.06 L329.11 91.64 L329.49 93.21 L329.91 94.76 L330.35 96.31 L330.82 97.85 L331.31 99.37 L331.83 100.89 L332.37 102.40 L332.94 103.90 L333.53 105.39 L334.14 106.87 L334.78 108.34 L335.43 109.81 L336.11 111.26 L336.81 112.71 L337.53 114.15 L338.27 115.58 L339.03 117.00 L339.81 118.41 L340.61 119.82 L341.43 121.21 L342.26 122.60 L343.11 123.98 L343.98 125.36 L344.86 126.72 L345.76 128.08 L346.67 129.43 L347.60 130.78 L348.55 132.12 L349.50 133.45 L350.47 134.77 L351.45 136.09 L352.45 137.39 L353.46 138.70 L354.47 139.99 L355.50 141.28 L356.54 142.57 L357.59 143.85 L358.65 145.12 L359.71 146.38 L360.79 147.64 L361.87 148.90 L362.96 150.14 L364.05 151.39 L365.16 152.62 L366.27 153.85 L367.38 155.08 L368.50 156.30 L369.62 157.52 L370.75 158.73 L371.88 159.93 L373.01 161.14 L374.15 162.33 L375.28 163.52 L376.42 164.71 L377.56 165.89 L378.70 167.07 L379.84 168.25 L380.98 169.42 L382.12 170.59 L383.25 171.75 L384.39 172.91 L385.52 174.06 L386.65 175.22 L387.77 176.36 L388.89 177.51 L390.01 178.65 L391.12 179.79 L392.23 180.93 L393.33 182.06 L394.42 183.19 L395.51 184.32" fill="none" stroke="#f43a40" stroke-width="1.35"/><rect x="326.6" y="22.5" width="210.60000000000002" height="168.8" fill="none" stroke="#141414" stroke-width="1.4"/><line x1="327.0" y1="191.3" x2="327.0" y2="194.8" stroke="#141414" stroke-width="1.4"/><text x="327.0" y="206" style="font-family:'Liberation Serif',serif;font-size:11px;" text-anchor="middle" fill="#111" >0</text><line x1="379.525" y1="191.3" x2="379.525" y2="194.8" stroke="#141414" stroke-width="1.4"/><text x="379.525" y="206" style="font-family:'Liberation Serif',serif;font-size:11px;" text-anchor="middle" fill="#111" >50</text><line x1="432.05" y1="191.3" x2="432.05" y2="194.8" stroke="#141414" stroke-width="1.4"/><text x="432.05" y="206" style="font-family:'Liberation Serif',serif;font-size:11px;" text-anchor="middle" fill="#111" >100</text><line x1="484.575" y1="191.3" x2="484.575" y2="194.8" stroke="#141414" stroke-width="1.4"/><text x="484.575" y="206" style="font-family:'Liberation Serif',serif;font-size:11px;" text-anchor="middle" fill="#111" >150</text><line x1="537.1" y1="191.3" x2="537.1" y2="194.8" stroke="#141414" stroke-width="1.4"/><text x="537.1" y="206" style="font-family:'Liberation Serif',serif;font-size:11px;" text-anchor="middle" fill="#111" >200</text><line x1="323.1" y1="191.2" x2="326.6" y2="191.2" stroke="#141414" stroke-width="1.4"/><text x="321" y="194.94" style="font-family:'Liberation Serif',serif;font-size:11px;" text-anchor="end" fill="#111" >0.0</text><line x1="323.1" y1="160.6" x2="326.6" y2="160.6" stroke="#141414" stroke-width="1.4"/><text x="321" y="164.34" style="font-family:'Liberation Serif',serif;font-size:11px;" text-anchor="end" fill="#111" >0.4</text><line x1="323.1" y1="130.0" x2="326.6" y2="130.0" stroke="#141414" stroke-width="1.4"/><text x="321" y="133.74" style="font-family:'Liberation Serif',serif;font-size:11px;" text-anchor="end" fill="#111" >0.8</text><line x1="323.1" y1="99.39999999999999" x2="326.6" y2="99.39999999999999" stroke="#141414" stroke-width="1.4"/><text x="321" y="103.13999999999999" style="font-family:'Liberation Serif',serif;font-size:11px;" text-anchor="end" fill="#111" >1.2</text><line x1="323.1" y1="68.79999999999998" x2="326.6" y2="68.79999999999998" stroke="#141414" stroke-width="1.4"/><text x="321" y="72.53999999999998" style="font-family:'Liberation Serif',serif;font-size:11px;" text-anchor="end" fill="#111" >1.6</text><line x1="323.1" y1="38.19999999999999" x2="326.6" y2="38.19999999999999" stroke="#141414" stroke-width="1.4"/><text x="321" y="41.93999999999999" style="font-family:'Liberation Serif',serif;font-size:11px;" text-anchor="end" fill="#111" >2.0</text><text x="329.8" y="32.9" style="font-family:'Liberation Serif',serif;font-size:10.1px;font-weight:bold;stroke:#111;stroke-width:0.22px;" text-anchor="start" fill="#111" textLength="51.8" lengthAdjust="spacingAndGlyphs">ZPCNF-1.5</text><text x="425.0" y="221" style="font-family:'Liberation Serif',serif;font-size:14.6px;" text-anchor="middle" fill="#111" >Capacity (mA h g<tspan dy="-5" style="font-size:10px">−1</tspan><tspan dy="5">)</tspan></text><text transform="translate(302.4,114) rotate(-90)" style="font-family:'Liberation Serif',serif;font-size:15px" text-anchor="middle" fill="#111">Voltage (V)</text><line x1="479.2" y1="88.1" x2="497.9" y2="88.1" stroke="#f43a40" stroke-width="1.7"/><text x="503.6" y="90.6" style="font-family:'Liberation Serif',serif;font-size:7.3px;font-weight:bold;stroke:#111;stroke-width:0.22px;" text-anchor="middle" fill="#111" textLength="8.2" lengthAdjust="spacingAndGlyphs">20</text><text x="509.4" y="90.6" style="font-family:'Liberation Serif',serif;font-size:7.3px;font-weight:bold;stroke:#111;stroke-width:0.22px;" text-anchor="start" fill="#111" >A</text><text x="517.4" y="90.6" style="font-family:'Liberation Serif',serif;font-size:7.3px;font-weight:bold;stroke:#111;stroke-width:0.22px;" text-anchor="start" fill="#111" >g</text><text x="521.3" y="87.5" style="font-family:'Liberation Serif',serif;font-size:5.2px;font-weight:bold;stroke:#111;stroke-width:0.22px;" text-anchor="start" fill="#111" >-1</text><line x1="479.2" y1="99.2" x2="497.9" y2="99.2" stroke="#f98a2c" stroke-width="1.7"/><text x="503.6" y="101.7" style="font-family:'Liberation Serif',serif;font-size:7.3px;font-weight:bold;stroke:#111;stroke-width:0.22px;" text-anchor="middle" fill="#111" textLength="8.2" lengthAdjust="spacingAndGlyphs">10</text><text x="509.4" y="101.7" style="font-family:'Liberation Serif',serif;font-size:7.3px;font-weight:bold;stroke:#111;stroke-width:0.22px;" text-anchor="start" fill="#111" >A</text><text x="517.4" y="101.7" style="font-family:'Liberation Serif',serif;font-size:7.3px;font-weight:bold;stroke:#111;stroke-width:0.22px;" text-anchor="start" fill="#111" >g</text><text x="521.3" y="98.60000000000001" style="font-family:'Liberation Serif',serif;font-size:5.2px;font-weight:bold;stroke:#111;stroke-width:0.22px;" text-anchor="start" fill="#111" >-1</text><line x1="479.2" y1="110.2" x2="497.9" y2="110.2" stroke="#f8a8b0" stroke-width="1.7"/><text x="503.6" y="112.7" style="font-family:'Liberation Serif',serif;font-size:7.3px;font-weight:bold;stroke:#111;stroke-width:0.22px;" text-anchor="middle" fill="#111" textLength="4.1" lengthAdjust="spacingAndGlyphs">8</text><text x="509.4" y="112.7" style="font-family:'Liberation Serif',serif;font-size:7.3px;font-weight:bold;stroke:#111;stroke-width:0.22px;" text-anchor="start" fill="#111" >A</text><text x="517.4" y="112.7" style="font-family:'Liberation Serif',serif;font-size:7.3px;font-weight:bold;stroke:#111;stroke-width:0.22px;" text-anchor="start" fill="#111" >g</text><text x="521.3" y="109.60000000000001" style="font-family:'Liberation Serif',serif;font-size:5.2px;font-weight:bold;stroke:#111;stroke-width:0.22px;" text-anchor="start" fill="#111" >-1</text><line x1="479.2" y1="121.2" x2="497.9" y2="121.2" stroke="#1a9a22" stroke-width="1.7"/><text x="503.6" y="123.7" style="font-family:'Liberation Serif',serif;font-size:7.3px;font-weight:bold;stroke:#111;stroke-width:0.22px;" text-anchor="middle" fill="#111" textLength="4.1" lengthAdjust="spacingAndGlyphs">6</text><text x="509.4" y="123.7" style="font-family:'Liberation Serif',serif;font-size:7.3px;font-weight:bold;stroke:#111;stroke-width:0.22px;" text-anchor="start" fill="#111" >A</text><text x="517.4" y="123.7" style="font-family:'Liberation Serif',serif;font-size:7.3px;font-weight:bold;stroke:#111;stroke-width:0.22px;" text-anchor="start" fill="#111" >g</text><text x="521.3" y="120.60000000000001" style="font-family:'Liberation Serif',serif;font-size:5.2px;font-weight:bold;stroke:#111;stroke-width:0.22px;" text-anchor="start" fill="#111" >-1</text><line x1="479.2" y1="132.2" x2="497.9" y2="132.2" stroke="#2333e0" stroke-width="1.7"/><text x="503.6" y="134.7" style="font-family:'Liberation Serif',serif;font-size:7.3px;font-weight:bold;stroke:#111;stroke-width:0.22px;" text-anchor="middle" fill="#111" textLength="4.1" lengthAdjust="spacingAndGlyphs">4</text><text x="509.4" y="134.7" style="font-family:'Liberation Serif',serif;font-size:7.3px;font-weight:bold;stroke:#111;stroke-width:0.22px;" text-anchor="start" fill="#111" >A</text><text x="517.4" y="134.7" style="font-family:'Liberation Serif',serif;font-size:7.3px;font-weight:bold;stroke:#111;stroke-width:0.22px;" text-anchor="start" fill="#111" >g</text><text x="521.3" y="131.6" style="font-family:'Liberation Serif',serif;font-size:5.2px;font-weight:bold;stroke:#111;stroke-width:0.22px;" text-anchor="start" fill="#111" >-1</text><line x1="479.2" y1="143.2" x2="497.9" y2="143.2" stroke="#7a1aa8" stroke-width="1.7"/><text x="503.6" y="145.7" style="font-family:'Liberation Serif',serif;font-size:7.3px;font-weight:bold;stroke:#111;stroke-width:0.22px;" text-anchor="middle" fill="#111" textLength="4.1" lengthAdjust="spacingAndGlyphs">2</text><text x="509.4" y="145.7" style="font-family:'Liberation Serif',serif;font-size:7.3px;font-weight:bold;stroke:#111;stroke-width:0.22px;" text-anchor="start" fill="#111" >A</text><text x="517.4" y="145.7" style="font-family:'Liberation Serif',serif;font-size:7.3px;font-weight:bold;stroke:#111;stroke-width:0.22px;" text-anchor="start" fill="#111" >g</text><text x="521.3" y="142.6" style="font-family:'Liberation Serif',serif;font-size:5.2px;font-weight:bold;stroke:#111;stroke-width:0.22px;" text-anchor="start" fill="#111" >-1</text><line x1="479.2" y1="154.2" x2="497.9" y2="154.2" stroke="#5a9e2e" stroke-width="1.7"/><text x="503.6" y="156.7" style="font-family:'Liberation Serif',serif;font-size:7.3px;font-weight:bold;stroke:#111;stroke-width:0.22px;" text-anchor="middle" fill="#111" textLength="4.1" lengthAdjust="spacingAndGlyphs">1</text><text x="509.4" y="156.7" style="font-family:'Liberation Serif',serif;font-size:7.3px;font-weight:bold;stroke:#111;stroke-width:0.22px;" text-anchor="start" fill="#111" >A</text><text x="517.4" y="156.7" style="font-family:'Liberation Serif',serif;font-size:7.3px;font-weight:bold;stroke:#111;stroke-width:0.22px;" text-anchor="start" fill="#111" >g</text><text x="521.3" y="153.6" style="font-family:'Liberation Serif',serif;font-size:5.2px;font-weight:bold;stroke:#111;stroke-width:0.22px;" text-anchor="start" fill="#111" >-1</text><path d="M91.89 336.19 L93.14 334.75 L94.44 333.40 L95.81 332.15 L97.22 330.99 L98.69 329.90 L100.21 328.90 L101.76 327.96 L103.36 327.09 L104.98 326.29 L106.64 325.53 L108.33 324.83 L110.03 324.17 L111.76 323.55 L113.50 322.97 L115.27 322.43 L117.05 321.93 L118.84 321.45 L120.65 321.01 L122.47 320.59 L124.31 320.20 L126.15 319.83 L128.01 319.48 L129.87 319.15 L131.74 318.83 L133.62 318.53 L135.50 318.24 L137.38 317.96 L139.27 317.68 L141.16 317.41 L143.04 317.14 L144.93 316.87 L146.81 316.60 L148.69 316.32 L150.57 316.04 L152.44 315.75 L154.31 315.46 L156.18 315.17 L158.04 314.87 L159.90 314.56 L161.76 314.25 L163.62 313.94 L165.47 313.63 L167.32 313.31 L169.17 312.99 L171.02 312.66 L172.86 312.33 L174.70 312.00 L176.54 311.66 L178.38 311.32 L180.22 310.98 L182.05 310.63 L183.88 310.28 L185.71 309.93 L187.55 309.57 L189.37 309.22 L191.20 308.86 L193.03 308.49 L194.86 308.13 L196.68 307.76 L198.51 307.39 L200.33 307.02 L202.15 306.65 L203.98 306.27 L205.80 305.89 L207.62 305.51 L209.45 305.13 L211.27 304.75 L213.09 304.37 L214.92 303.98 L216.74 303.59 L218.57 303.21 L220.39 302.82 L222.22 302.43 L224.04 302.03 L225.87 301.64 L227.70 301.25 L229.53 300.85 L231.36 300.46 L233.19 300.07 L235.02 299.67 L236.86 299.27 L238.69 298.88 L240.53 298.48 L242.37 298.08 L244.21 297.69 L246.06 297.29 L247.90 296.89 L249.75 296.50 L251.60 296.10 L251.01 298.10 L250.28 299.96 L249.42 301.70 L248.45 303.32 L247.37 304.83 L246.19 306.25 L244.91 307.57 L243.55 308.80 L242.11 309.95 L240.60 311.03 L239.03 312.05 L237.41 313.01 L235.73 313.92 L234.02 314.79 L232.28 315.62 L230.52 316.43 L228.74 317.21 L226.95 317.98 L225.16 318.73 L223.35 319.47 L221.54 320.19 L219.72 320.90 L217.89 321.59 L216.05 322.27 L214.21 322.93 L212.37 323.58 L210.51 324.21 L208.66 324.83 L206.79 325.43 L204.93 326.01 L203.05 326.58 L201.18 327.13 L199.30 327.67 L197.42 328.19 L195.54 328.69 L193.65 329.18 L191.76 329.65 L189.87 330.10 L187.98 330.54 L186.09 330.97 L184.19 331.37 L182.30 331.77 L180.40 332.14 L178.51 332.50 L176.61 332.85 L174.71 333.18 L172.81 333.49 L170.91 333.79 L169.01 334.08 L167.11 334.35 L165.21 334.61 L163.30 334.85 L161.39 335.09 L159.49 335.30 L157.58 335.51 L155.67 335.70 L153.76 335.88 L151.85 336.05 L149.93 336.20 L148.02 336.34 L146.10 336.47 L144.19 336.59 L142.27 336.70 L140.35 336.80 L138.43 336.88 L136.50 336.96 L134.58 337.02 L132.66 337.08 L130.73 337.12 L128.80 337.16 L126.87 337.18 L124.94 337.19 L123.01 337.20 L121.08 337.20 L119.14 337.18 L117.21 337.16 L115.27 337.13 L113.33 337.10 L111.39 337.05 L109.45 337.00 L107.50 336.93 L105.56 336.87 L103.61 336.79 L101.66 336.71 L99.71 336.62 L97.76 336.52 L95.81 336.42 L93.86 336.31 L91.90 336.19 Z" fill="none" stroke="#666666" stroke-width="1.35" stroke-linejoin="miter" stroke-linecap="butt"/><path d="M92.10 368.80 L92.18 366.45 L92.32 364.14 L92.52 361.85 L92.78 359.58 L93.10 357.33 L93.46 355.10 L93.87 352.87 L94.32 350.65 L94.81 348.42 L95.34 346.19 L95.89 343.94 L96.48 341.68 L97.10 339.41 L97.78 337.16 L98.55 334.95 L99.43 332.81 L100.46 330.77 L101.64 328.84 L103.00 327.05 L104.53 325.40 L106.21 323.91 L108.03 322.58 L109.98 321.42 L112.04 320.40 L114.14 319.45 L116.23 318.49 L118.25 317.41 L120.19 316.21 L122.07 314.92 L123.92 313.59 L125.79 312.28 L127.69 311.02 L129.65 309.84 L131.66 308.75 L133.71 307.74 L135.81 306.79 L137.94 305.91 L140.09 305.09 L142.27 304.32 L144.47 303.60 L146.67 302.93 L148.88 302.29 L151.09 301.69 L153.31 301.11 L155.52 300.54 L157.74 299.97 L159.95 299.40 L162.17 298.82 L164.38 298.23 L166.59 297.60 L168.79 296.93 L170.99 296.23 L173.18 295.49 L175.37 294.75 L177.56 294.01 L179.75 293.30 L181.95 292.62 L184.15 292.01 L186.37 291.48 L188.59 291.04 L190.82 290.71 L193.07 290.51 L195.35 290.45 L197.63 290.50 L199.92 290.58 L202.21 290.58 L204.48 290.44 L206.71 290.11 L208.92 289.57 L211.09 288.88 L213.26 288.09 L215.41 287.24 L217.56 286.40 L219.72 285.59 L221.88 284.81 L224.05 284.04 L226.21 283.28 L228.36 282.50 L230.51 281.71 L232.65 280.90 L234.79 280.05 L236.91 279.19 L239.04 278.32 L241.17 277.45 L243.30 276.59 L245.43 275.75 L247.58 274.93 L249.73 274.14 L251.90 273.40 L251.70 275.61 L251.48 277.86 L251.24 280.12 L250.97 282.40 L250.66 284.69 L250.30 286.98 L249.89 289.27 L249.42 291.53 L248.88 293.78 L248.26 296.00 L247.56 298.18 L246.76 300.31 L245.87 302.39 L244.86 304.41 L243.74 306.37 L242.51 308.26 L241.18 310.08 L239.75 311.84 L238.23 313.52 L236.63 315.15 L234.96 316.70 L233.22 318.19 L231.43 319.62 L229.58 320.98 L227.69 322.28 L225.76 323.52 L223.81 324.70 L221.82 325.82 L219.82 326.91 L217.80 327.96 L215.77 328.99 L213.73 330.01 L211.69 331.02 L209.65 332.03 L207.60 333.04 L205.55 334.03 L203.49 335.00 L201.43 335.95 L199.35 336.87 L197.25 337.76 L195.14 338.61 L193.02 339.43 L190.88 340.23 L188.75 341.03 L186.61 341.82 L184.48 342.63 L182.35 343.46 L180.23 344.31 L178.13 345.20 L176.04 346.14 L173.98 347.13 L171.93 348.16 L169.89 349.19 L167.83 350.15 L165.76 351.01 L163.64 351.70 L161.48 352.20 L159.27 352.50 L157.03 352.67 L154.76 352.73 L152.48 352.74 L150.20 352.74 L147.92 352.74 L145.64 352.75 L143.36 352.77 L141.08 352.82 L138.80 352.90 L136.53 353.02 L134.26 353.18 L131.99 353.38 L129.72 353.64 L127.46 353.96 L125.20 354.34 L122.96 354.78 L120.72 355.27 L118.50 355.83 L116.30 356.44 L114.12 357.12 L111.96 357.86 L109.82 358.66 L107.71 359.53 L105.63 360.46 L103.58 361.45 L101.57 362.51 L99.59 363.63 L97.65 364.82 L95.76 366.08 L93.90 367.41 L92.10 368.80 Z" fill="none" stroke="#f24c4c" stroke-width="1.35" stroke-linejoin="miter" stroke-linecap="butt"/><path d="M92.10 384.20 L92.13 381.80 L92.19 379.36 L92.27 376.89 L92.38 374.39 L92.53 371.87 L92.71 369.32 L92.94 366.76 L93.21 364.19 L93.52 361.61 L93.87 359.04 L94.28 356.46 L94.74 353.89 L95.26 351.34 L95.83 348.79 L96.46 346.28 L97.16 343.78 L97.92 341.32 L98.75 338.89 L99.65 336.50 L100.63 334.15 L101.68 331.85 L102.81 329.61 L104.02 327.42 L105.32 325.29 L106.70 323.23 L108.16 321.23 L109.69 319.29 L111.30 317.42 L112.99 315.61 L114.74 313.86 L116.55 312.17 L118.43 310.55 L120.37 308.98 L122.36 307.48 L124.40 306.03 L126.49 304.64 L128.63 303.32 L130.80 302.05 L133.02 300.84 L135.27 299.69 L137.56 298.59 L139.88 297.56 L142.22 296.58 L144.58 295.65 L146.97 294.78 L149.37 293.97 L151.79 293.21 L154.22 292.49 L156.66 291.81 L159.12 291.18 L161.59 290.58 L164.07 290.01 L166.55 289.47 L169.05 288.95 L171.55 288.46 L174.05 287.97 L176.56 287.51 L179.06 287.04 L181.57 286.59 L184.08 286.13 L186.59 285.67 L189.09 285.21 L191.59 284.73 L194.08 284.24 L196.57 283.73 L199.04 283.20 L201.51 282.64 L203.97 282.05 L206.41 281.43 L208.84 280.77 L211.26 280.07 L213.66 279.32 L216.04 278.52 L218.41 277.67 L220.75 276.77 L223.08 275.82 L225.39 274.81 L227.68 273.76 L229.96 272.67 L232.22 271.53 L234.46 270.36 L236.69 269.14 L238.90 267.90 L241.10 266.61 L243.29 265.30 L245.46 263.96 L247.62 262.59 L249.76 261.20 L251.90 259.79 L251.87 262.27 L251.79 264.75 L251.65 267.23 L251.46 269.71 L251.21 272.19 L250.91 274.67 L250.54 277.14 L250.12 279.60 L249.63 282.04 L249.09 284.47 L248.48 286.88 L247.81 289.27 L247.08 291.63 L246.28 293.97 L245.42 296.27 L244.49 298.55 L243.50 300.78 L242.44 302.98 L241.31 305.13 L240.12 307.24 L238.85 309.30 L237.52 311.31 L236.11 313.27 L234.64 315.17 L233.09 317.02 L231.48 318.81 L229.81 320.55 L228.08 322.24 L226.29 323.88 L224.45 325.47 L222.56 327.02 L220.62 328.52 L218.64 329.97 L216.61 331.38 L214.55 332.76 L212.45 334.09 L210.32 335.38 L208.16 336.63 L205.97 337.85 L203.76 339.04 L201.53 340.19 L199.28 341.31 L197.01 342.40 L194.74 343.46 L192.45 344.49 L190.16 345.50 L187.87 346.48 L185.58 347.43 L183.28 348.37 L180.99 349.28 L178.68 350.17 L176.38 351.03 L174.08 351.88 L171.77 352.71 L169.45 353.52 L167.13 354.31 L164.81 355.09 L162.48 355.85 L160.15 356.59 L157.81 357.32 L155.46 358.03 L153.11 358.74 L150.75 359.43 L148.39 360.12 L146.03 360.81 L143.67 361.49 L141.31 362.19 L138.95 362.89 L136.59 363.59 L134.24 364.32 L131.89 365.05 L129.55 365.81 L127.21 366.59 L124.89 367.40 L122.57 368.23 L120.26 369.10 L117.97 370.00 L115.69 370.93 L113.43 371.90 L111.19 372.92 L108.96 373.97 L106.76 375.07 L104.58 376.22 L102.43 377.41 L100.30 378.66 L98.20 379.96 L96.14 381.31 L94.10 382.73 L92.10 384.20 Z" fill="none" stroke="#f9c89a" stroke-width="1.35" stroke-linejoin="miter" stroke-linecap="butt"/><path d="M92.11 395.00 L92.20 392.43 L92.29 389.82 L92.39 387.18 L92.50 384.51 L92.63 381.82 L92.77 379.10 L92.94 376.37 L93.13 373.62 L93.35 370.86 L93.60 368.10 L93.89 365.33 L94.21 362.56 L94.58 359.80 L95.00 357.05 L95.46 354.30 L95.98 351.58 L96.56 348.87 L97.19 346.19 L97.89 343.53 L98.66 340.91 L99.50 338.31 L100.41 335.76 L101.40 333.25 L102.47 330.78 L103.62 328.37 L104.87 326.01 L106.20 323.70 L107.62 321.45 L109.13 319.26 L110.73 317.14 L112.40 315.07 L114.15 313.07 L115.97 311.13 L117.86 309.26 L119.82 307.46 L121.84 305.72 L123.92 304.05 L126.06 302.45 L128.25 300.92 L130.49 299.47 L132.77 298.09 L135.10 296.78 L137.46 295.55 L139.87 294.39 L142.31 293.30 L144.78 292.27 L147.28 291.30 L149.82 290.38 L152.37 289.52 L154.96 288.70 L157.56 287.93 L160.19 287.20 L162.83 286.50 L165.49 285.83 L168.16 285.19 L170.85 284.57 L173.54 283.97 L176.24 283.38 L178.95 282.80 L181.66 282.24 L184.37 281.67 L187.07 281.10 L189.78 280.52 L192.48 279.94 L195.17 279.34 L197.85 278.73 L200.52 278.09 L203.18 277.42 L205.82 276.73 L208.44 276.00 L211.04 275.23 L213.62 274.42 L216.17 273.56 L218.70 272.65 L221.20 271.69 L223.66 270.67 L226.10 269.59 L228.49 268.44 L230.85 267.21 L233.17 265.92 L235.45 264.54 L237.68 263.08 L239.87 261.54 L242.01 259.90 L244.09 258.16 L246.13 256.33 L248.11 254.39 L250.03 252.35 L251.90 250.19 L251.73 252.73 L251.55 255.27 L251.35 257.85 L251.14 260.44 L250.91 263.05 L250.65 265.67 L250.37 268.30 L250.06 270.93 L249.71 273.57 L249.32 276.21 L248.89 278.85 L248.42 281.48 L247.89 284.10 L247.31 286.70 L246.68 289.29 L245.98 291.85 L245.21 294.38 L244.36 296.86 L243.44 299.31 L242.43 301.70 L241.33 304.04 L240.14 306.31 L238.86 308.52 L237.48 310.67 L236.02 312.76 L234.48 314.79 L232.87 316.77 L231.18 318.69 L229.42 320.56 L227.60 322.39 L225.72 324.16 L223.78 325.89 L221.79 327.58 L219.75 329.22 L217.67 330.82 L215.54 332.39 L213.39 333.92 L211.20 335.41 L208.98 336.88 L206.74 338.31 L204.48 339.72 L202.20 341.09 L199.91 342.45 L197.62 343.78 L195.32 345.09 L193.02 346.38 L190.71 347.64 L188.39 348.88 L186.07 350.10 L183.74 351.30 L181.40 352.46 L179.06 353.61 L176.70 354.72 L174.33 355.81 L171.95 356.87 L169.56 357.91 L167.16 358.91 L164.75 359.89 L162.32 360.84 L159.89 361.78 L157.44 362.69 L155.00 363.60 L152.54 364.49 L150.09 365.39 L147.63 366.28 L145.17 367.17 L142.71 368.07 L140.26 368.97 L137.80 369.89 L135.36 370.83 L132.92 371.79 L130.48 372.77 L128.06 373.78 L125.65 374.81 L123.25 375.87 L120.87 376.97 L118.51 378.09 L116.16 379.25 L113.84 380.45 L111.53 381.69 L109.25 382.98 L107.00 384.30 L104.78 385.68 L102.58 387.10 L100.41 388.57 L98.28 390.09 L96.18 391.67 L94.12 393.31 L92.10 395.00 Z" fill="none" stroke="#1e9a1e" stroke-width="1.35" stroke-linejoin="miter" stroke-linecap="butt"/><rect x="62.5" y="236.3" width="210.5" height="168.7" fill="none" stroke="#141414" stroke-width="1.4"/><line x1="83.6" y1="405.0" x2="83.6" y2="408.5" stroke="#141414" stroke-width="1.4"/><text x="83.6" y="420" style="font-family:'Liberation Serif',serif;font-size:11px;" text-anchor="middle" fill="#111" >0.0</text><line x1="125.5" y1="405.0" x2="125.5" y2="408.5" stroke="#141414" stroke-width="1.4"/><text x="125.5" y="420" style="font-family:'Liberation Serif',serif;font-size:11px;" text-anchor="middle" fill="#111" >0.5</text><line x1="167.39999999999998" y1="405.0" x2="167.39999999999998" y2="408.5" stroke="#141414" stroke-width="1.4"/><text x="167.39999999999998" y="420" style="font-family:'Liberation Serif',serif;font-size:11px;" text-anchor="middle" fill="#111" >1.0</text><line x1="209.29999999999998" y1="405.0" x2="209.29999999999998" y2="408.5" stroke="#141414" stroke-width="1.4"/><text x="209.29999999999998" y="420" style="font-family:'Liberation Serif',serif;font-size:11px;" text-anchor="middle" fill="#111" >1.5</text><line x1="251.2" y1="405.0" x2="251.2" y2="408.5" stroke="#141414" stroke-width="1.4"/><text x="251.2" y="420" style="font-family:'Liberation Serif',serif;font-size:11px;" text-anchor="middle" fill="#111" >2.0</text><line x1="59.0" y1="257.21999999999997" x2="62.5" y2="257.21999999999997" stroke="#141414" stroke-width="1.4"/><text x="57.2" y="260.96" style="font-family:'Liberation Serif',serif;font-size:11px;" text-anchor="end" fill="#111" >6</text><line x1="59.0" y1="288.81" x2="62.5" y2="288.81" stroke="#141414" stroke-width="1.4"/><text x="57.2" y="292.55" style="font-family:'Liberation Serif',serif;font-size:11px;" text-anchor="end" fill="#111" >3</text><line x1="59.0" y1="320.4" x2="62.5" y2="320.4" stroke="#141414" stroke-width="1.4"/><text x="57.2" y="324.14" style="font-family:'Liberation Serif',serif;font-size:11px;" text-anchor="end" fill="#111" >0</text><line x1="59.0" y1="351.98999999999995" x2="62.5" y2="351.98999999999995" stroke="#141414" stroke-width="1.4"/><text x="57.2" y="355.72999999999996" style="font-family:'Liberation Serif',serif;font-size:11px;" text-anchor="end" fill="#111" >-3</text><line x1="59.0" y1="383.58" x2="62.5" y2="383.58" stroke="#141414" stroke-width="1.4"/><text x="57.2" y="387.32" style="font-family:'Liberation Serif',serif;font-size:11px;" text-anchor="end" fill="#111" >-6</text><text x="161.4" y="433.2" style="font-family:'Liberation Serif',serif;font-size:15px;" text-anchor="middle" fill="#111" >Voltage (V)</text><text transform="translate(45.4,314.2) rotate(-90)" style="font-family:'Liberation Serif',serif;font-size:14.4px" text-anchor="middle" fill="#111">Current density (A g<tspan dy="-5" style="font-size:10px">−1</tspan><tspan dy="5">)</tspan></text><line x1="188.3" y1="355.0" x2="214.2" y2="355.0" stroke="#1e9a1e" stroke-width="1.6"/><text x="217.0" y="358.3" style="font-family:'Liberation Serif',serif;font-size:10.6px;font-weight:bold;stroke:#111;stroke-width:0.22px;" text-anchor="start" fill="#111" textLength="56.0" lengthAdjust="spacingAndGlyphs">ZPCNF-1.5</text><line x1="188.3" y1="368.6" x2="214.2" y2="368.6" stroke="#f9c89a" stroke-width="1.6"/><text x="217.0" y="371.90000000000003" style="font-family:'Liberation Serif',serif;font-size:10.6px;font-weight:bold;stroke:#111;stroke-width:0.22px;" text-anchor="start" fill="#111" textLength="56.0" lengthAdjust="spacingAndGlyphs">ZPCNF-1.0</text><line x1="188.3" y1="382.8" x2="214.2" y2="382.8" stroke="#f24c4c" stroke-width="1.6"/><text x="217.0" y="386.1" style="font-family:'Liberation Serif',serif;font-size:10.6px;font-weight:bold;stroke:#111;stroke-width:0.22px;" text-anchor="start" fill="#111" textLength="56.0" lengthAdjust="spacingAndGlyphs">ZPCNF-0.5</text><line x1="188.3" y1="396.9" x2="214.2" y2="396.9" stroke="#666666" stroke-width="1.6"/><text x="217.0" y="400.2" style="font-family:'Liberation Serif',serif;font-size:10.6px;font-weight:bold;stroke:#111;stroke-width:0.22px;" text-anchor="start" fill="#111" textLength="30.2" lengthAdjust="spacingAndGlyphs">PCNF</text><path d="M326.89 392.00 L328.02 389.64 L329.23 387.34 L330.51 385.10 L331.86 382.91 L333.29 380.78 L334.78 378.69 L336.32 376.65 L337.93 374.65 L339.58 372.69 L341.29 370.77 L343.03 368.88 L344.82 367.02 L346.64 365.19 L348.49 363.39 L350.36 361.61 L352.26 359.85 L354.18 358.10 L356.11 356.37 L358.05 354.64 L359.99 352.93 L361.95 351.23 L363.91 349.54 L365.89 347.85 L367.86 346.17 L369.85 344.51 L371.84 342.85 L373.84 341.20 L375.85 339.55 L377.86 337.92 L379.88 336.29 L381.90 334.67 L383.93 333.05 L385.97 331.45 L388.01 329.85 L390.06 328.25 L392.11 326.66 L394.16 325.08 L396.22 323.51 L398.28 321.94 L400.35 320.37 L402.42 318.81 L404.50 317.26 L406.57 315.71 L408.65 314.16 L410.74 312.62 L412.82 311.08 L414.91 309.55 L417.00 308.02 L419.10 306.50 L421.20 304.98 L423.30 303.47 L425.41 301.96 L427.52 300.47 L429.63 298.97 L431.75 297.49 L433.87 296.01 L436.00 294.54 L438.14 293.08 L440.28 291.62 L442.42 290.18 L444.57 288.74 L446.73 287.31 L448.89 285.90 L451.06 284.49 L453.24 283.09 L455.42 281.70 L457.61 280.32 L459.81 278.95 L462.01 277.60 L464.22 276.25 L466.44 274.92 L468.67 273.60 L470.91 272.29 L473.15 271.00 L475.40 269.72 L477.67 268.45 L479.94 267.21 L482.22 265.99 L484.52 264.79 L486.82 263.62 L489.14 262.47 L491.47 261.36 L493.82 260.28 L496.17 259.23 L498.55 258.22 L500.94 257.25 L503.34 256.32 L505.76 255.43 L508.20 254.59" fill="none" stroke="#1e9a1e" stroke-width="1.35"/><path d="M326.79 258.60 L327.63 261.06 L328.57 263.48 L329.60 265.85 L330.72 268.18 L331.91 270.47 L333.19 272.71 L334.54 274.92 L335.96 277.09 L337.44 279.22 L338.99 281.31 L340.59 283.36 L342.24 285.38 L343.94 287.36 L345.69 289.30 L347.48 291.21 L349.30 293.09 L351.15 294.94 L353.03 296.75 L354.94 298.53 L356.86 300.28 L358.81 302.00 L360.78 303.70 L362.78 305.37 L364.79 307.02 L366.81 308.65 L368.86 310.25 L370.92 311.84 L372.99 313.41 L375.07 314.97 L377.17 316.51 L379.28 318.04 L381.39 319.56 L383.52 321.06 L385.65 322.56 L387.79 324.06 L389.93 325.55 L392.07 327.04 L394.22 328.52 L396.36 330.00 L398.51 331.49 L400.65 332.98 L402.80 334.47 L404.94 335.97 L407.07 337.47 L409.21 338.98 L411.34 340.48 L413.48 341.99 L415.61 343.50 L417.74 345.01 L419.87 346.51 L422.01 348.02 L424.14 349.52 L426.27 351.03 L428.41 352.52 L430.55 354.02 L432.69 355.51 L434.84 356.99 L436.99 358.47 L439.14 359.94 L441.29 361.41 L443.45 362.86 L445.62 364.31 L447.79 365.75 L449.97 367.18 L452.15 368.60 L454.34 370.00 L456.54 371.40 L458.74 372.78 L460.95 374.15 L463.17 375.50 L465.40 376.84 L467.63 378.17 L469.88 379.48 L472.14 380.77 L474.40 382.05 L476.68 383.30 L478.96 384.54 L481.26 385.76 L483.57 386.96 L485.89 388.14 L488.23 389.29 L490.58 390.43 L492.94 391.54 L495.31 392.63 L497.70 393.69 L500.10 394.73 L502.52 395.75 L504.95 396.74 L507.40 397.70" fill="none" stroke="#1e9a1e" stroke-width="1.35"/><path d="M326.90 391.60 L327.78 389.41 L328.76 387.29 L329.85 385.22 L331.03 383.21 L332.28 381.25 L333.60 379.32 L334.98 377.44 L336.41 375.58 L337.87 373.74 L339.36 371.92 L340.87 370.12 L342.39 368.32 L343.92 366.53 L345.47 364.76 L347.03 362.99 L348.60 361.23 L350.18 359.49 L351.77 357.75 L353.37 356.03 L354.99 354.31 L356.62 352.61 L358.25 350.92 L359.90 349.25 L361.56 347.58 L363.23 345.93 L364.91 344.28 L366.59 342.65 L368.29 341.03 L370.00 339.41 L371.71 337.81 L373.43 336.21 L375.16 334.62 L376.89 333.04 L378.64 331.47 L380.39 329.90 L382.14 328.34 L383.90 326.79 L385.67 325.24 L387.44 323.69 L389.21 322.16 L390.99 320.62 L392.77 319.09 L394.56 317.57 L396.34 316.05 L398.14 314.53 L399.93 313.01 L401.72 311.50 L403.52 309.98 L405.32 308.47 L407.12 306.96 L408.92 305.46 L410.73 303.95 L412.54 302.45 L414.35 300.95 L416.16 299.46 L417.97 297.96 L419.79 296.48 L421.61 294.99 L423.44 293.51 L425.27 292.03 L427.10 290.55 L428.93 289.08 L430.77 287.62 L432.62 286.16 L434.46 284.70 L436.32 283.25 L438.17 281.80 L440.03 280.36 L441.90 278.92 L443.77 277.49 L445.65 276.07 L447.53 274.65 L449.41 273.23 L451.31 271.83 L453.21 270.44 L455.12 269.06 L457.05 267.71 L458.99 266.39 L460.95 265.09 L462.93 263.83 L464.93 262.61 L466.96 261.44 L469.01 260.31 L471.09 259.24 L473.20 258.22 L475.35 257.26 L477.53 256.37 L479.74 255.55 L482.00 254.80" fill="none" stroke="#f9c89a" stroke-width="1.35"/><path d="M326.80 259.50 L327.23 261.90 L327.82 264.22 L328.58 266.45 L329.47 268.62 L330.48 270.72 L331.61 272.76 L332.83 274.75 L334.14 276.70 L335.51 278.61 L336.94 280.50 L338.41 282.36 L339.91 284.21 L341.42 286.05 L342.96 287.87 L344.51 289.69 L346.08 291.48 L347.66 293.27 L349.25 295.04 L350.86 296.79 L352.48 298.52 L354.10 300.24 L355.75 301.94 L357.40 303.62 L359.08 305.28 L360.76 306.92 L362.47 308.54 L364.19 310.15 L365.93 311.73 L367.69 313.29 L369.47 314.83 L371.27 316.35 L373.09 317.85 L374.93 319.33 L376.79 320.80 L378.66 322.26 L380.53 323.72 L382.40 325.18 L384.26 326.65 L386.11 328.13 L387.95 329.62 L389.79 331.13 L391.61 332.64 L393.44 334.16 L395.26 335.67 L397.09 337.18 L398.92 338.68 L400.76 340.18 L402.59 341.68 L404.43 343.18 L406.26 344.67 L408.10 346.17 L409.93 347.67 L411.76 349.18 L413.59 350.69 L415.41 352.20 L417.23 353.72 L419.04 355.25 L420.85 356.79 L422.65 358.33 L424.45 359.88 L426.25 361.42 L428.06 362.96 L429.87 364.48 L431.69 366.00 L433.52 367.50 L435.37 368.97 L437.23 370.43 L439.12 371.86 L441.03 373.25 L442.95 374.62 L444.90 375.97 L446.87 377.28 L448.85 378.58 L450.85 379.85 L452.86 381.10 L454.89 382.34 L456.92 383.56 L458.97 384.76 L461.02 385.95 L463.08 387.14 L465.15 388.31 L467.22 389.48 L469.29 390.64 L471.36 391.79 L473.44 392.95 L475.51 394.11 L477.58 395.27 L479.64 396.43 L481.70 397.60" fill="none" stroke="#f9c89a" stroke-width="1.35"/><path d="M326.89 386.30 L327.66 384.47 L328.45 382.66 L329.27 380.86 L330.11 379.08 L330.97 377.31 L331.86 375.55 L332.76 373.80 L333.69 372.07 L334.64 370.35 L335.60 368.64 L336.59 366.94 L337.59 365.26 L338.62 363.58 L339.66 361.92 L340.72 360.26 L341.79 358.62 L342.88 356.98 L343.98 355.36 L345.10 353.74 L346.24 352.13 L347.38 350.53 L348.54 348.94 L349.71 347.35 L350.90 345.78 L352.09 344.20 L353.30 342.64 L354.51 341.08 L355.74 339.53 L356.97 337.98 L358.21 336.44 L359.46 334.91 L360.72 333.37 L361.98 331.85 L363.25 330.32 L364.53 328.80 L365.81 327.29 L367.09 325.77 L368.38 324.26 L369.67 322.75 L370.96 321.25 L372.25 319.74 L373.55 318.24 L374.84 316.74 L376.14 315.24 L377.44 313.74 L378.75 312.24 L380.05 310.75 L381.36 309.26 L382.67 307.77 L383.98 306.28 L385.30 304.80 L386.62 303.32 L387.94 301.85 L389.26 300.38 L390.59 298.91 L391.93 297.45 L393.27 295.99 L394.61 294.54 L395.95 293.09 L397.31 291.64 L398.66 290.20 L400.02 288.77 L401.39 287.34 L402.76 285.92 L404.14 284.51 L405.52 283.10 L406.91 281.69 L408.31 280.30 L409.71 278.91 L411.12 277.53 L412.53 276.15 L413.96 274.79 L415.39 273.44 L416.84 272.10 L418.29 270.77 L419.76 269.46 L421.24 268.17 L422.74 266.89 L424.25 265.64 L425.77 264.40 L427.32 263.19 L428.88 262.00 L430.46 260.84 L432.06 259.71 L433.68 258.60 L435.33 257.53 L436.99 256.48 L438.68 255.47 L440.40 254.49" fill="none" stroke="#f04848" stroke-width="1.35"/><path d="M326.79 259.00 L327.19 261.08 L327.65 263.13 L328.15 265.16 L328.70 267.16 L329.29 269.14 L329.93 271.09 L330.62 273.02 L331.35 274.93 L332.12 276.82 L332.93 278.68 L333.77 280.53 L334.66 282.35 L335.58 284.16 L336.53 285.95 L337.52 287.71 L338.54 289.47 L339.59 291.20 L340.67 292.92 L341.78 294.63 L342.91 296.32 L344.07 297.99 L345.26 299.66 L346.46 301.31 L347.69 302.95 L348.93 304.58 L350.20 306.19 L351.48 307.80 L352.77 309.40 L354.08 310.99 L355.41 312.58 L356.74 314.15 L358.09 315.72 L359.44 317.29 L360.81 318.85 L362.17 320.40 L363.55 321.95 L364.92 323.50 L366.30 325.05 L367.68 326.59 L369.06 328.14 L370.44 329.68 L371.82 331.22 L373.20 332.76 L374.58 334.30 L375.96 335.83 L377.34 337.36 L378.73 338.89 L380.11 340.42 L381.50 341.94 L382.89 343.46 L384.28 344.98 L385.68 346.49 L387.07 348.00 L388.48 349.50 L389.88 351.00 L391.29 352.49 L392.71 353.98 L394.13 355.46 L395.55 356.94 L396.98 358.41 L398.41 359.88 L399.85 361.33 L401.30 362.79 L402.75 364.23 L404.21 365.67 L405.67 367.10 L407.15 368.52 L408.62 369.93 L410.11 371.34 L411.61 372.73 L413.11 374.12 L414.62 375.50 L416.14 376.87 L417.67 378.23 L419.21 379.58 L420.76 380.92 L422.32 382.25 L423.89 383.57 L425.47 384.88 L427.06 386.17 L428.66 387.46 L430.27 388.73 L431.90 389.99 L433.53 391.24 L435.18 392.48 L436.84 393.71 L438.51 394.92 L440.20 396.12 L441.90 397.30" fill="none" stroke="#f04848" stroke-width="1.35"/><path d="M326.80 392.00 L326.75 390.41 L326.70 388.83 L326.65 387.23 L326.61 385.64 L326.56 384.04 L326.53 382.44 L326.49 380.84 L326.46 379.23 L326.43 377.63 L326.40 376.02 L326.38 374.41 L326.37 372.79 L326.36 371.18 L326.35 369.56 L326.35 367.94 L326.35 366.32 L326.36 364.70 L326.38 363.08 L326.40 361.46 L326.42 359.84 L326.46 358.21 L326.50 356.59 L326.55 354.97 L326.60 353.34 L326.66 351.72 L326.73 350.10 L326.81 348.47 L326.89 346.85 L326.99 345.23 L327.09 343.61 L327.20 341.99 L327.32 340.37 L327.45 338.75 L327.59 337.13 L327.74 335.52 L327.89 333.90 L328.06 332.29 L328.24 330.68 L328.43 329.07 L328.63 327.47 L328.84 325.86 L329.06 324.26 L329.29 322.66 L329.54 321.07 L329.79 319.48 L330.06 317.89 L330.34 316.30 L330.63 314.72 L330.94 313.14 L331.26 311.56 L331.59 309.99 L331.94 308.42 L332.29 306.86 L332.67 305.30 L333.05 303.74 L333.46 302.19 L333.87 300.65 L334.30 299.11 L334.75 297.57 L335.21 296.04 L335.68 294.51 L336.18 292.99 L336.68 291.48 L337.21 289.97 L337.75 288.46 L338.31 286.97 L338.88 285.47 L339.47 283.99 L340.08 282.51 L340.70 281.04 L341.35 279.57 L342.01 278.11 L342.69 276.66 L343.38 275.22 L344.10 273.78 L344.84 272.35 L345.59 270.93 L346.36 269.51 L347.16 268.10 L347.97 266.71 L348.80 265.31 L349.65 263.93 L350.53 262.56 L351.42 261.19 L352.33 259.84 L353.27 258.49 L354.23 257.15 L355.20 255.82 L356.20 254.50" fill="none" stroke="#111111" stroke-width="1.35"/><path d="M326.80 258.00 L326.68 259.64 L326.58 261.28 L326.49 262.92 L326.43 264.55 L326.38 266.18 L326.35 267.81 L326.34 269.44 L326.35 271.06 L326.37 272.68 L326.41 274.30 L326.47 275.91 L326.54 277.53 L326.63 279.14 L326.74 280.74 L326.86 282.35 L327.00 283.95 L327.15 285.55 L327.32 287.15 L327.50 288.75 L327.69 290.34 L327.90 291.93 L328.12 293.52 L328.35 295.11 L328.60 296.70 L328.86 298.28 L329.13 299.86 L329.41 301.44 L329.70 303.02 L330.01 304.60 L330.32 306.17 L330.65 307.75 L330.99 309.32 L331.33 310.89 L331.69 312.46 L332.05 314.02 L332.43 315.59 L332.81 317.15 L333.20 318.71 L333.60 320.28 L334.01 321.84 L334.42 323.40 L334.84 324.95 L335.27 326.51 L335.70 328.07 L336.14 329.62 L336.59 331.17 L337.04 332.73 L337.50 334.28 L337.96 335.83 L338.42 337.38 L338.89 338.93 L339.37 340.48 L339.84 342.03 L340.32 343.57 L340.81 345.12 L341.29 346.67 L341.78 348.21 L342.27 349.76 L342.77 351.30 L343.26 352.85 L343.75 354.39 L344.25 355.94 L344.75 357.48 L345.24 359.02 L345.74 360.57 L346.24 362.11 L346.73 363.66 L347.22 365.20 L347.72 366.74 L348.21 368.29 L348.70 369.83 L349.18 371.37 L349.67 372.92 L350.15 374.46 L350.63 376.01 L351.10 377.55 L351.57 379.10 L352.04 380.65 L352.50 382.19 L352.95 383.74 L353.41 385.29 L353.85 386.84 L354.29 388.39 L354.73 389.94 L355.16 391.49 L355.58 393.04 L355.99 394.59 L356.40 396.15 L356.80 397.70" fill="none" stroke="#111111" stroke-width="1.35"/><rect x="326.6" y="236.4" width="210.39999999999998" height="168.6" fill="none" stroke="#141414" stroke-width="1.4"/><line x1="326.7" y1="405.0" x2="326.7" y2="408.5" stroke="#141414" stroke-width="1.4"/><text x="326.7" y="420" style="font-family:'Liberation Serif',serif;font-size:11px;" text-anchor="middle" fill="#111" >0</text><line x1="373.375" y1="405.0" x2="373.375" y2="408.5" stroke="#141414" stroke-width="1.4"/><text x="373.375" y="420" style="font-family:'Liberation Serif',serif;font-size:11px;" text-anchor="middle" fill="#111" >50</text><line x1="420.04999999999995" y1="405.0" x2="420.04999999999995" y2="408.5" stroke="#141414" stroke-width="1.4"/><text x="420.04999999999995" y="420" style="font-family:'Liberation Serif',serif;font-size:11px;" text-anchor="middle" fill="#111" >100</text><line x1="466.725" y1="405.0" x2="466.725" y2="408.5" stroke="#141414" stroke-width="1.4"/><text x="466.725" y="420" style="font-family:'Liberation Serif',serif;font-size:11px;" text-anchor="middle" fill="#111" >150</text><line x1="513.4" y1="405.0" x2="513.4" y2="408.5" stroke="#141414" stroke-width="1.4"/><text x="513.4" y="420" style="font-family:'Liberation Serif',serif;font-size:11px;" text-anchor="middle" fill="#111" >200</text><line x1="323.1" y1="405.1" x2="326.6" y2="405.1" stroke="#141414" stroke-width="1.4"/><text x="321" y="408.84000000000003" style="font-family:'Liberation Serif',serif;font-size:11px;" text-anchor="end" fill="#111" >0.0</text><line x1="323.1" y1="367.625" x2="326.6" y2="367.625" stroke="#141414" stroke-width="1.4"/><text x="321" y="371.365" style="font-family:'Liberation Serif',serif;font-size:11px;" text-anchor="end" fill="#111" >0.5</text><line x1="323.1" y1="330.15000000000003" x2="326.6" y2="330.15000000000003" stroke="#141414" stroke-width="1.4"/><text x="321" y="333.89000000000004" style="font-family:'Liberation Serif',serif;font-size:11px;" text-anchor="end" fill="#111" >1.0</text><line x1="323.1" y1="292.675" x2="326.6" y2="292.675" stroke="#141414" stroke-width="1.4"/><text x="321" y="296.415" style="font-family:'Liberation Serif',serif;font-size:11px;" text-anchor="end" fill="#111" >1.5</text><line x1="323.1" y1="255.20000000000002" x2="326.6" y2="255.20000000000002" stroke="#141414" stroke-width="1.4"/><text x="321" y="258.94" style="font-family:'Liberation Serif',serif;font-size:11px;" text-anchor="end" fill="#111" >2.0</text><text x="429.4" y="434.4" style="font-family:'Liberation Serif',serif;font-size:14.6px;" text-anchor="middle" fill="#111" >Capacity (mA h g<tspan dy="-5" style="font-size:10px">−1</tspan><tspan dy="5">)</tspan></text><text transform="translate(302.4,327.0) rotate(-90)" style="font-family:'Liberation Serif',serif;font-size:15px" text-anchor="middle" fill="#111">Voltage (V)</text><line x1="454.9" y1="319.3" x2="480.8" y2="319.3" stroke="#1e9a1e" stroke-width="1.6"/><text x="483.2" y="322.6" style="font-family:'Liberation Serif',serif;font-size:9.6px;font-weight:bold;stroke:#111;stroke-width:0.22px;" text-anchor="start" fill="#111" >ZPCNF-1.5</text><line x1="454.9" y1="333.4" x2="480.8" y2="333.4" stroke="#f9c89a" stroke-width="1.6"/><text x="483.2" y="336.7" style="font-family:'Liberation Serif',serif;font-size:9.6px;font-weight:bold;stroke:#111;stroke-width:0.22px;" text-anchor="start" fill="#111" >ZPCNF-1.0</text><line x1="454.9" y1="347.3" x2="480.8" y2="347.3" stroke="#f04848" stroke-width="1.6"/><text x="483.2" y="350.6" style="font-family:'Liberation Serif',serif;font-size:9.6px;font-weight:bold;stroke:#111;stroke-width:0.22px;" text-anchor="start" fill="#111" >ZPCNF-0.5</text><line x1="454.9" y1="361.6" x2="480.8" y2="361.6" stroke="#111111" stroke-width="1.6"/><text x="483.2" y="364.90000000000003" style="font-family:'Liberation Serif',serif;font-size:9.6px;font-weight:bold;stroke:#111;stroke-width:0.22px;" text-anchor="start" fill="#111" >PCNF</text><text x="3.5" y="26.3" style="font-family:'Liberation Serif',serif;font-size:29px;" text-anchor="start" fill="#111" >(a)</text><text x="278.5" y="26.3" style="font-family:'Liberation Serif',serif;font-size:29px;" text-anchor="start" fill="#111" >(b)</text><text x="3.9" y="242.3" style="font-family:'Liberation Serif',serif;font-size:29px;" text-anchor="start" fill="#111" >(c)</text><text x="279.9" y="242.3" style="font-family:'Liberation Serif',serif;font-size:29px;" text-anchor="start" fill="#111" >(d)</text></svg>
</body></html>
